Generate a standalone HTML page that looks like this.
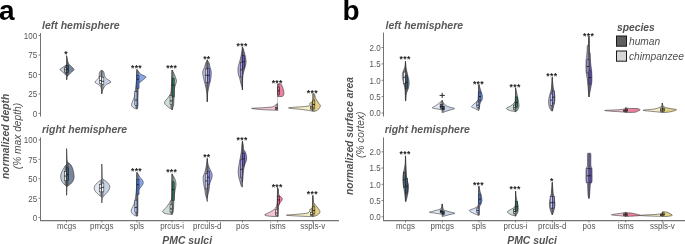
<!DOCTYPE html>
<html><head><meta charset="utf-8"><style>
html,body{margin:0;padding:0;background:#fff;width:685px;height:244px;overflow:hidden}
svg{display:block;will-change:transform}
text{font-family:"Liberation Sans", sans-serif}
.pl{font-size:28px;font-weight:bold;fill:#000}
.strip{font-size:10.5px;font-weight:bold;font-style:italic;fill:#595959}
.tk{font-size:8px;fill:#555}
.ttl{font-size:10.3px;font-weight:bold;font-style:italic;fill:#525252}
.sub{font-size:10.2px;font-style:italic;fill:#4d4d4d}
.st{font-size:8.6px;font-weight:bold;fill:#222;letter-spacing:0.35px}
</style></head><body>
<svg width="685" height="244" viewBox="0 0 685 244" xmlns="http://www.w3.org/2000/svg">
<text x="-1" y="20.3" class="pl">a</text>
<text x="342.4" y="20.2" class="pl">b</text>
<text x="42" y="29" class="strip">left hemisphere</text>
<text x="42" y="133" class="strip">right hemisphere</text>
<text x="385.5" y="29" class="strip">left hemisphere</text>
<text x="384.7" y="133" class="strip">right hemisphere</text>
<line x1="40.5" y1="33" x2="40.5" y2="116.5" stroke="#737373" stroke-width="1.05"/>
<line x1="38.5" y1="35.5" x2="40.5" y2="35.5" stroke="#666" stroke-width="0.8"/>
<text transform="translate(37.20,38.80) scale(1,1.08)" text-anchor="end" class="tk">100</text>
<line x1="38.5" y1="55.0" x2="40.5" y2="55.0" stroke="#666" stroke-width="0.8"/>
<text transform="translate(37.20,58.30) scale(1,1.08)" text-anchor="end" class="tk">75</text>
<line x1="38.5" y1="74.5" x2="40.5" y2="74.5" stroke="#666" stroke-width="0.8"/>
<text transform="translate(37.20,77.80) scale(1,1.08)" text-anchor="end" class="tk">50</text>
<line x1="38.5" y1="94.0" x2="40.5" y2="94.0" stroke="#666" stroke-width="0.8"/>
<text transform="translate(37.20,97.30) scale(1,1.08)" text-anchor="end" class="tk">25</text>
<line x1="38.5" y1="113.4" x2="40.5" y2="113.4" stroke="#666" stroke-width="0.8"/>
<text transform="translate(37.20,116.70) scale(1,1.08)" text-anchor="end" class="tk">0</text>
<line x1="40.5" y1="137.4" x2="40.5" y2="220.4" stroke="#737373" stroke-width="1.05"/>
<line x1="38.5" y1="139.9" x2="40.5" y2="139.9" stroke="#666" stroke-width="0.8"/>
<text transform="translate(37.20,143.20) scale(1,1.08)" text-anchor="end" class="tk">100</text>
<line x1="38.5" y1="159.3" x2="40.5" y2="159.3" stroke="#666" stroke-width="0.8"/>
<text transform="translate(37.20,162.60) scale(1,1.08)" text-anchor="end" class="tk">75</text>
<line x1="38.5" y1="178.8" x2="40.5" y2="178.8" stroke="#666" stroke-width="0.8"/>
<text transform="translate(37.20,182.10) scale(1,1.08)" text-anchor="end" class="tk">50</text>
<line x1="38.5" y1="198.2" x2="40.5" y2="198.2" stroke="#666" stroke-width="0.8"/>
<text transform="translate(37.20,201.50) scale(1,1.08)" text-anchor="end" class="tk">25</text>
<line x1="38.5" y1="217.6" x2="40.5" y2="217.6" stroke="#666" stroke-width="0.8"/>
<text transform="translate(37.20,220.90) scale(1,1.08)" text-anchor="end" class="tk">0</text>
<line x1="383.5" y1="32.6" x2="383.5" y2="116.5" stroke="#737373" stroke-width="1.05"/>
<line x1="381.5" y1="47.5" x2="383.5" y2="47.5" stroke="#666" stroke-width="0.8"/>
<text transform="translate(380.70,50.80) scale(1,1.08)" text-anchor="end" class="tk">2.0</text>
<line x1="381.5" y1="63.9" x2="383.5" y2="63.9" stroke="#666" stroke-width="0.8"/>
<text transform="translate(380.70,67.20) scale(1,1.08)" text-anchor="end" class="tk">1.5</text>
<line x1="381.5" y1="80.3" x2="383.5" y2="80.3" stroke="#666" stroke-width="0.8"/>
<text transform="translate(380.70,83.60) scale(1,1.08)" text-anchor="end" class="tk">1.0</text>
<line x1="381.5" y1="96.6" x2="383.5" y2="96.6" stroke="#666" stroke-width="0.8"/>
<text transform="translate(380.70,99.90) scale(1,1.08)" text-anchor="end" class="tk">0.5</text>
<line x1="381.5" y1="113.0" x2="383.5" y2="113.0" stroke="#666" stroke-width="0.8"/>
<text transform="translate(380.70,116.30) scale(1,1.08)" text-anchor="end" class="tk">0.0</text>
<line x1="383.5" y1="137.4" x2="383.5" y2="220.4" stroke="#737373" stroke-width="1.05"/>
<line x1="381.5" y1="151.8" x2="383.5" y2="151.8" stroke="#666" stroke-width="0.8"/>
<text transform="translate(380.70,155.10) scale(1,1.08)" text-anchor="end" class="tk">2.0</text>
<line x1="381.5" y1="168.0" x2="383.5" y2="168.0" stroke="#666" stroke-width="0.8"/>
<text transform="translate(380.70,171.30) scale(1,1.08)" text-anchor="end" class="tk">1.5</text>
<line x1="381.5" y1="184.3" x2="383.5" y2="184.3" stroke="#666" stroke-width="0.8"/>
<text transform="translate(380.70,187.60) scale(1,1.08)" text-anchor="end" class="tk">1.0</text>
<line x1="381.5" y1="200.5" x2="383.5" y2="200.5" stroke="#666" stroke-width="0.8"/>
<text transform="translate(380.70,203.80) scale(1,1.08)" text-anchor="end" class="tk">0.5</text>
<line x1="381.5" y1="216.8" x2="383.5" y2="216.8" stroke="#666" stroke-width="0.8"/>
<text transform="translate(380.70,220.10) scale(1,1.08)" text-anchor="end" class="tk">0.0</text>
<line x1="40.0" y1="220.6" x2="339" y2="220.6" stroke="#737373" stroke-width="1.1"/>
<line x1="66.60" y1="220.45" x2="66.60" y2="222.45" stroke="#666" stroke-width="0.8"/>
<text transform="translate(66.60,229.25) scale(1,1.08)" text-anchor="middle" class="tk">mcgs</text>
<line x1="101.77" y1="220.45" x2="101.77" y2="222.45" stroke="#666" stroke-width="0.8"/>
<text transform="translate(101.77,229.25) scale(1,1.08)" text-anchor="middle" class="tk">pmcgs</text>
<line x1="136.94" y1="220.45" x2="136.94" y2="222.45" stroke="#666" stroke-width="0.8"/>
<text transform="translate(136.94,229.25) scale(1,1.08)" text-anchor="middle" class="tk">spls</text>
<line x1="172.11" y1="220.45" x2="172.11" y2="222.45" stroke="#666" stroke-width="0.8"/>
<text transform="translate(172.11,229.25) scale(1,1.08)" text-anchor="middle" class="tk">prcus-i</text>
<line x1="207.28" y1="220.45" x2="207.28" y2="222.45" stroke="#666" stroke-width="0.8"/>
<text transform="translate(207.28,229.25) scale(1,1.08)" text-anchor="middle" class="tk">prculs-d</text>
<line x1="242.45" y1="220.45" x2="242.45" y2="222.45" stroke="#666" stroke-width="0.8"/>
<text transform="translate(242.45,229.25) scale(1,1.08)" text-anchor="middle" class="tk">pos</text>
<line x1="277.62" y1="220.45" x2="277.62" y2="222.45" stroke="#666" stroke-width="0.8"/>
<text transform="translate(277.62,229.25) scale(1,1.08)" text-anchor="middle" class="tk">isms</text>
<line x1="312.79" y1="220.45" x2="312.79" y2="222.45" stroke="#666" stroke-width="0.8"/>
<text transform="translate(312.79,229.25) scale(1,1.08)" text-anchor="middle" class="tk">sspls-v</text>
<line x1="383.0" y1="220.6" x2="685" y2="220.6" stroke="#737373" stroke-width="1.1"/>
<line x1="405.50" y1="220.45" x2="405.50" y2="222.45" stroke="#666" stroke-width="0.8"/>
<text transform="translate(405.50,229.25) scale(1,1.08)" text-anchor="middle" class="tk">mcgs</text>
<line x1="442.19" y1="220.45" x2="442.19" y2="222.45" stroke="#666" stroke-width="0.8"/>
<text transform="translate(442.19,229.25) scale(1,1.08)" text-anchor="middle" class="tk">pmcgs</text>
<line x1="478.88" y1="220.45" x2="478.88" y2="222.45" stroke="#666" stroke-width="0.8"/>
<text transform="translate(478.88,229.25) scale(1,1.08)" text-anchor="middle" class="tk">spls</text>
<line x1="515.57" y1="220.45" x2="515.57" y2="222.45" stroke="#666" stroke-width="0.8"/>
<text transform="translate(515.57,229.25) scale(1,1.08)" text-anchor="middle" class="tk">prcus-i</text>
<line x1="552.26" y1="220.45" x2="552.26" y2="222.45" stroke="#666" stroke-width="0.8"/>
<text transform="translate(552.26,229.25) scale(1,1.08)" text-anchor="middle" class="tk">prculs-d</text>
<line x1="588.95" y1="220.45" x2="588.95" y2="222.45" stroke="#666" stroke-width="0.8"/>
<text transform="translate(588.95,229.25) scale(1,1.08)" text-anchor="middle" class="tk">pos</text>
<line x1="625.64" y1="220.45" x2="625.64" y2="222.45" stroke="#666" stroke-width="0.8"/>
<text transform="translate(625.64,229.25) scale(1,1.08)" text-anchor="middle" class="tk">isms</text>
<line x1="662.33" y1="220.45" x2="662.33" y2="222.45" stroke="#666" stroke-width="0.8"/>
<text transform="translate(662.33,229.25) scale(1,1.08)" text-anchor="middle" class="tk">sspls-v</text>
<text x="187.2" y="243.6" text-anchor="middle" class="ttl" style="font-size:10.4px">PMC sulci</text>
<text x="532.1" y="243.6" text-anchor="middle" class="ttl" style="font-size:10.4px">PMC sulci</text>
<text transform="translate(9.0,136.3) rotate(-90)" text-anchor="middle" class="ttl">normalized depth</text>
<text transform="translate(21.0,136.1) rotate(-90)" text-anchor="middle" class="sub">(% max depth)</text>
<text transform="translate(352.8,136) rotate(-90)" text-anchor="middle" class="ttl">normalized surface area</text>
<text transform="translate(363.9,134.8) rotate(-90)" text-anchor="middle" class="sub">(% cortex)</text>
<text x="617" y="31" class="ttl">species</text>
<rect x="616.5" y="36" width="10" height="10.2" fill="#5f5f5f" stroke="#1a1a1a" stroke-width="1"/>
<rect x="616.5" y="51" width="10" height="10.2" fill="#d6d6d6" stroke="#1a1a1a" stroke-width="1"/>
<text x="629" y="44.5" class="sub">human</text>
<text x="629" y="59.5" class="sub">chimpanzee</text>
<path d="M66.60,64.60 C66.23,64.87 65.15,65.67 64.40,66.20 C63.65,66.73 62.83,67.25 62.10,67.80 C61.37,68.35 60.00,68.87 60.00,69.50 C60.00,70.13 61.37,70.90 62.10,71.60 C62.83,72.30 63.65,73.00 64.40,73.70 C65.15,74.40 66.23,75.45 66.60,75.80 L66.60,75.80 L66.60,64.60 Z" fill="#c6ced8" stroke="#2b2b2b" stroke-width="0.55" stroke-linejoin="round"/>
<path d="M66.60,55.60 C66.70,56.00 67.03,57.10 67.20,58.00 C67.37,58.90 67.40,60.13 67.60,61.00 C67.80,61.87 67.82,62.33 68.40,63.20 C68.98,64.07 70.17,65.15 71.10,66.20 C72.03,67.25 73.92,68.53 74.00,69.50 C74.08,70.47 72.42,71.17 71.60,72.00 C70.78,72.83 69.80,73.75 69.10,74.50 C68.40,75.25 67.73,75.92 67.40,76.50 C67.07,77.08 67.23,77.42 67.10,78.00 C66.97,78.58 66.68,79.67 66.60,80.00 L66.60,80.00 L66.60,55.60 Z" fill="#78869a" stroke="#2b2b2b" stroke-width="0.55" stroke-linejoin="round"/>
<path d="M66.30,55.60 L66.30,56.23 L66.30,56.85 L66.30,57.48 L66.30,58.10 L66.30,58.73 L66.30,59.35 L66.30,59.98 L66.30,60.61 L66.30,61.23 L66.30,61.86 L66.30,62.48 L66.30,63.11 L66.30,63.73 L66.30,64.36 L66.07,64.98 L65.21,65.61 L64.60,66.24 L64.60,66.86 L64.60,67.49 L64.60,68.11 L64.60,68.74 L64.60,69.36 L64.60,69.99 L64.60,70.62 L64.60,71.24 L64.60,71.87 L64.60,72.49 L64.60,73.12 L64.60,73.74 L65.10,74.37 L65.76,74.99 L66.30,75.62 L66.30,76.25 L66.30,76.87 L66.30,77.50 L66.30,78.12 L66.30,78.75 L66.30,79.37 L66.30,80.00 L66.90,80.00 L66.90,79.37 L66.91,78.75 L67.07,78.12 L67.20,77.50 L67.33,76.87 L67.62,76.25 L68.15,75.62 L68.60,74.99 L68.60,74.37 L68.60,73.74 L68.60,73.12 L68.60,72.49 L68.60,71.87 L68.60,71.24 L68.60,70.62 L68.60,69.99 L68.60,69.36 L68.60,68.74 L68.60,68.11 L68.60,67.49 L68.60,66.86 L68.60,66.24 L68.60,65.61 L68.60,64.98 L68.60,64.36 L68.60,63.73 L68.37,63.11 L68.14,62.48 L67.91,61.86 L67.68,61.23 L67.55,60.61 L67.46,59.98 L67.38,59.35 L67.30,58.73 L67.21,58.10 L67.07,57.48 L66.91,56.85 L66.90,56.23 L66.90,55.60 Z" fill="#3a3a3a" fill-opacity="0.6"/>
<rect x="64.50" y="67.88" width="2.10" height="4.14" fill="#e6eaef" stroke="#1a1a1a" stroke-width="0.5"/>
<line x1="64.50" y1="69.85" x2="66.60" y2="69.85" stroke="#111" stroke-width="0.8"/>
<rect x="66.60" y="65.60" width="2.10" height="6.65" fill="#3b5875" stroke="#1a1a1a" stroke-width="0.5"/>
<line x1="66.60" y1="69.11" x2="68.70" y2="69.11" stroke="#111" stroke-width="0.8"/>
<text x="66.20" y="57.30" text-anchor="middle" class="st">*</text>
<path d="M101.77,70.30 C101.47,70.50 100.37,70.98 99.97,71.50 C99.57,72.02 99.50,72.65 99.37,73.40 C99.24,74.15 99.35,75.15 99.17,76.00 C98.99,76.85 98.97,77.50 98.27,78.50 C97.57,79.50 94.97,81.00 94.97,82.00 C94.97,83.00 97.39,83.78 98.27,84.50 C99.15,85.22 99.77,85.72 100.27,86.30 C100.77,86.88 101.02,86.77 101.27,88.00 C101.52,89.23 101.69,92.75 101.77,93.70 L101.77,93.70 L101.77,70.30 Z" fill="#e3e9f4" stroke="#2b2b2b" stroke-width="0.55" stroke-linejoin="round"/>
<path d="M101.77,70.30 C102.07,70.50 103.17,70.98 103.57,71.50 C103.97,72.02 103.97,72.65 104.17,73.40 C104.37,74.15 104.42,75.15 104.77,76.00 C105.12,76.85 105.24,77.50 106.27,78.50 C107.30,79.50 110.97,81.00 110.97,82.00 C110.97,83.00 107.39,83.67 106.27,84.50 C105.15,85.33 104.77,86.28 104.27,87.00 C103.77,87.72 103.60,88.13 103.27,88.80 C102.94,89.47 102.52,90.18 102.27,91.00 C102.02,91.82 101.85,93.25 101.77,93.70 L101.77,93.70 L101.77,70.30 Z" fill="#c9d3e7" stroke="#2b2b2b" stroke-width="0.55" stroke-linejoin="round"/>
<path d="M101.47,70.30 L100.87,70.90 L99.97,71.50 L99.78,72.10 L99.77,72.70 L99.77,73.30 L99.77,73.90 L99.77,74.50 L99.77,75.10 L99.77,75.70 L99.77,76.30 L99.77,76.90 L99.77,77.50 L99.77,78.10 L99.77,78.70 L99.77,79.30 L99.77,79.90 L99.77,80.50 L99.77,81.10 L99.77,81.70 L99.77,82.30 L99.77,82.90 L99.77,83.50 L99.77,84.10 L99.77,84.70 L99.77,85.30 L99.83,85.90 L100.39,86.50 L100.74,87.10 L101.09,87.70 L101.30,88.30 L101.35,88.90 L101.40,89.50 L101.45,90.10 L101.47,90.70 L101.47,91.30 L101.47,91.90 L101.47,92.50 L101.47,93.10 L101.47,93.70 L102.07,93.70 L102.07,93.10 L102.07,92.50 L102.10,91.90 L102.21,91.30 L102.41,90.70 L102.68,90.10 L102.95,89.50 L103.22,88.90 L103.55,88.30 L103.77,87.70 L103.77,87.10 L103.77,86.50 L103.77,85.90 L103.77,85.30 L103.77,84.70 L103.77,84.10 L103.77,83.50 L103.77,82.90 L103.77,82.30 L103.77,81.70 L103.77,81.10 L103.77,80.50 L103.77,79.90 L103.77,79.30 L103.77,78.70 L103.77,78.10 L103.77,77.50 L103.77,76.90 L103.77,76.30 L103.77,75.70 L103.77,75.10 L103.77,74.50 L103.77,73.90 L103.77,73.30 L103.77,72.70 L103.76,72.10 L103.57,71.50 L102.67,70.90 L102.07,70.30 Z" fill="#3a3a3a" fill-opacity="0.4"/>
<rect x="99.67" y="76.15" width="2.10" height="7.40" fill="#f5f7fb" stroke="#1a1a1a" stroke-width="0.5"/>
<line x1="99.67" y1="80.62" x2="101.77" y2="80.62" stroke="#111" stroke-width="0.8"/>
<rect x="101.77" y="77.23" width="2.10" height="7.04" fill="#f0f2f8" stroke="#1a1a1a" stroke-width="0.5"/>
<line x1="101.77" y1="81.27" x2="103.87" y2="81.27" stroke="#111" stroke-width="0.8"/>
<path d="M136.94,69.50 C136.86,71.25 136.69,76.67 136.44,80.00 C136.19,83.33 135.77,86.75 135.44,89.50 C135.11,92.25 134.97,94.38 134.44,96.50 C133.91,98.62 132.71,100.67 132.24,102.20 C131.77,103.73 131.36,104.73 131.64,105.70 C131.92,106.67 133.06,107.43 133.94,108.00 C134.82,108.57 136.44,108.92 136.94,109.10 L136.94,109.10 L136.94,69.50 Z" fill="#d8e2f7" stroke="#2b2b2b" stroke-width="0.55" stroke-linejoin="round"/>
<path d="M136.94,69.50 C137.14,69.75 137.71,70.45 138.14,71.00 C138.57,71.55 138.91,72.17 139.54,72.80 C140.17,73.43 140.87,74.12 141.94,74.80 C143.01,75.48 145.69,76.12 145.94,76.90 C146.19,77.68 144.36,78.65 143.44,79.50 C142.52,80.35 141.32,81.28 140.44,82.00 C139.56,82.72 138.52,82.47 138.14,83.80 C137.76,85.13 138.17,87.30 138.14,90.00 C138.11,92.70 137.97,97.33 137.94,100.00 C137.91,102.67 138.11,104.50 137.94,106.00 C137.77,107.50 137.11,108.50 136.94,109.00 L136.94,109.00 L136.94,69.50 Z" fill="#89a7e8" stroke="#2b2b2b" stroke-width="0.55" stroke-linejoin="round"/>
<path d="M136.64,69.50 L136.64,70.52 L136.64,71.53 L136.64,72.55 L136.64,73.56 L136.64,74.58 L136.64,75.59 L136.60,76.61 L136.55,77.62 L136.50,78.64 L136.46,79.65 L136.37,80.67 L136.26,81.68 L136.16,82.70 L136.05,83.72 L135.94,84.73 L135.84,85.75 L135.73,86.76 L135.62,87.78 L135.51,88.79 L135.40,89.81 L135.25,90.82 L135.11,91.84 L134.96,92.85 L134.94,93.87 L134.94,94.88 L134.94,95.90 L134.94,96.92 L134.94,97.93 L134.94,98.95 L134.94,99.96 L134.94,100.98 L134.94,101.99 L134.94,103.01 L134.94,104.02 L134.94,105.04 L134.94,106.05 L134.94,107.07 L134.94,108.08 L136.64,109.10 L137.24,109.10 L137.25,108.08 L137.58,107.07 L137.92,106.05 L137.94,105.04 L137.94,104.02 L137.94,103.01 L137.94,101.99 L137.94,100.98 L137.94,99.96 L137.96,98.95 L137.98,97.93 L138.00,96.92 L138.02,95.90 L138.04,94.88 L138.06,93.87 L138.08,92.85 L138.10,91.84 L138.12,90.82 L138.14,89.81 L138.14,88.79 L138.14,87.78 L138.14,86.76 L138.14,85.75 L138.14,84.73 L138.25,83.72 L138.94,82.70 L138.94,81.68 L138.94,80.67 L138.94,79.65 L138.94,78.64 L138.94,77.62 L138.94,76.61 L138.94,75.59 L138.94,74.58 L138.94,73.56 L138.94,72.55 L138.55,71.53 L137.75,70.52 L137.24,69.50 Z" fill="#3a3a3a" fill-opacity="0.4"/>
<rect x="134.84" y="91.63" width="2.10" height="13.65" fill="#b4c8f4" stroke="#1a1a1a" stroke-width="0.5"/>
<line x1="134.84" y1="100.07" x2="136.94" y2="100.07" stroke="#111" stroke-width="0.8"/>
<rect x="136.94" y="75.74" width="2.10" height="12.99" fill="#4d7be0" stroke="#1a1a1a" stroke-width="0.5"/>
<line x1="136.94" y1="79.20" x2="139.04" y2="79.20" stroke="#111" stroke-width="0.8"/>
<text x="136.54" y="71.10" text-anchor="middle" class="st">***</text>
<path d="M172.11,70.00 C171.98,73.00 171.56,84.12 171.31,88.00 C171.06,91.88 171.14,91.70 170.61,93.30 C170.08,94.90 169.13,96.00 168.11,97.60 C167.09,99.20 164.34,101.22 164.51,102.90 C164.68,104.58 167.84,106.60 169.11,107.70 C170.38,108.80 171.61,109.20 172.11,109.50 L172.11,109.50 L172.11,70.00 Z" fill="#d2ded9" stroke="#2b2b2b" stroke-width="0.55" stroke-linejoin="round"/>
<path d="M172.11,70.00 C172.31,70.33 172.88,71.13 173.31,72.00 C173.74,72.87 174.26,74.07 174.71,75.20 C175.16,76.33 175.71,77.75 176.01,78.80 C176.31,79.85 176.66,80.30 176.51,81.50 C176.36,82.70 175.49,84.65 175.11,86.00 C174.73,87.35 174.38,88.10 174.21,89.60 C174.04,91.10 174.16,93.27 174.11,95.00 C174.06,96.73 173.99,98.33 173.91,100.00 C173.83,101.67 173.91,103.35 173.61,105.00 C173.31,106.65 172.36,109.08 172.11,109.90 L172.11,109.90 L172.11,70.00 Z" fill="#a9c1b8" stroke="#2b2b2b" stroke-width="0.55" stroke-linejoin="round"/>
<path d="M171.81,70.00 L171.81,71.02 L171.81,72.05 L171.81,73.07 L171.81,74.09 L171.81,75.12 L171.81,76.14 L171.79,77.16 L171.75,78.18 L171.70,79.21 L171.66,80.23 L171.61,81.25 L171.56,82.28 L171.52,83.30 L171.47,84.32 L171.43,85.35 L171.38,86.37 L171.34,87.39 L171.26,88.42 L171.12,89.44 L170.98,90.46 L170.85,91.48 L170.71,92.51 L170.48,93.53 L170.11,94.55 L170.11,95.58 L170.11,96.60 L170.11,97.62 L170.11,98.65 L170.11,99.67 L170.11,100.69 L170.11,101.72 L170.11,102.74 L170.11,103.76 L170.11,104.78 L170.11,105.81 L170.11,106.83 L170.11,107.85 L171.07,108.88 L171.81,109.90 L172.41,109.90 L172.42,108.88 L172.74,107.85 L173.05,106.83 L173.36,105.81 L173.62,104.78 L173.68,103.76 L173.75,102.74 L173.81,101.72 L173.87,100.69 L173.92,99.67 L173.96,98.65 L174.01,97.62 L174.05,96.60 L174.09,95.58 L174.11,94.55 L174.11,93.53 L174.11,92.51 L174.11,91.48 L174.11,90.46 L174.11,89.44 L174.11,88.42 L174.11,87.39 L174.11,86.37 L174.11,85.35 L174.11,84.32 L174.11,83.30 L174.11,82.28 L174.11,81.25 L174.11,80.23 L174.11,79.21 L174.11,78.18 L174.11,77.16 L174.11,76.14 L174.11,75.12 L174.11,74.09 L173.78,73.07 L173.33,72.05 L172.72,71.02 L172.41,70.00 Z" fill="#3a3a3a" fill-opacity="0.4"/>
<rect x="170.01" y="95.32" width="2.10" height="9.28" fill="#c8dcd4" stroke="#1a1a1a" stroke-width="0.5"/>
<line x1="170.01" y1="100.89" x2="172.11" y2="100.89" stroke="#111" stroke-width="0.8"/>
<rect x="172.11" y="78.20" width="2.10" height="18.75" fill="#2f6e60" stroke="#1a1a1a" stroke-width="0.5"/>
<line x1="172.11" y1="85.20" x2="174.21" y2="85.20" stroke="#111" stroke-width="0.8"/>
<text x="171.71" y="71.10" text-anchor="middle" class="st">***</text>
<path d="M207.28,59.90 C207.03,60.42 206.25,61.77 205.78,63.00 C205.31,64.23 205.00,65.77 204.48,67.30 C203.96,68.83 202.78,70.15 202.68,72.20 C202.58,74.25 203.45,77.47 203.88,79.60 C204.31,81.73 204.80,82.87 205.28,85.00 C205.76,87.13 206.45,89.60 206.78,92.40 C207.11,95.20 207.20,100.23 207.28,101.80 L207.28,101.80 L207.28,59.90 Z" fill="#c0c0da" stroke="#2b2b2b" stroke-width="0.55" stroke-linejoin="round"/>
<path d="M207.28,59.90 C207.58,60.42 208.61,61.77 209.08,63.00 C209.55,64.23 209.71,65.77 210.08,67.30 C210.45,68.83 211.18,70.15 211.28,72.20 C211.38,74.25 211.01,77.47 210.68,79.60 C210.35,81.73 209.76,82.87 209.28,85.00 C208.80,87.13 208.11,89.60 207.78,92.40 C207.45,95.20 207.36,100.23 207.28,101.80 L207.28,101.80 L207.28,59.90 Z" fill="#9c9cd6" stroke="#2b2b2b" stroke-width="0.55" stroke-linejoin="round"/>
<path d="M206.98,59.90 L206.76,60.97 L206.24,62.05 L205.74,63.12 L205.42,64.20 L205.28,65.27 L205.28,66.35 L205.28,67.42 L205.28,68.49 L205.28,69.57 L205.28,70.64 L205.28,71.72 L205.28,72.79 L205.28,73.87 L205.28,74.94 L205.28,76.02 L205.28,77.09 L205.28,78.16 L205.28,79.24 L205.28,80.31 L205.28,81.39 L205.28,82.46 L205.28,83.54 L205.28,84.61 L205.42,85.68 L205.64,86.76 L205.85,87.83 L206.07,88.91 L206.29,89.98 L206.51,91.06 L206.73,92.13 L206.82,93.21 L206.88,94.28 L206.94,95.35 L206.98,96.43 L206.98,97.50 L206.98,98.58 L206.98,99.65 L206.98,100.73 L206.98,101.80 L207.58,101.80 L207.58,100.73 L207.58,99.65 L207.58,98.58 L207.58,97.50 L207.58,96.43 L207.62,95.35 L207.68,94.28 L207.74,93.21 L207.83,92.13 L208.05,91.06 L208.27,89.98 L208.49,88.91 L208.71,87.83 L208.92,86.76 L209.14,85.68 L209.28,84.61 L209.28,83.54 L209.28,82.46 L209.28,81.39 L209.28,80.31 L209.28,79.24 L209.28,78.16 L209.28,77.09 L209.28,76.02 L209.28,74.94 L209.28,73.87 L209.28,72.79 L209.28,71.72 L209.28,70.64 L209.28,69.57 L209.28,68.49 L209.28,67.42 L209.28,66.35 L209.28,65.27 L209.28,64.20 L209.11,63.12 L208.53,62.05 L207.90,60.97 L207.58,59.90 Z" fill="#3a3a3a" fill-opacity="0.4"/>
<rect x="205.18" y="68.93" width="2.10" height="13.65" fill="#c4c4e6" stroke="#1a1a1a" stroke-width="0.5"/>
<line x1="205.18" y1="75.23" x2="207.28" y2="75.23" stroke="#111" stroke-width="0.8"/>
<rect x="207.28" y="68.51" width="2.10" height="14.31" fill="#8484dc" stroke="#1a1a1a" stroke-width="0.5"/>
<line x1="207.28" y1="75.34" x2="209.38" y2="75.34" stroke="#111" stroke-width="0.8"/>
<text x="206.88" y="61.50" text-anchor="middle" class="st">**</text>
<path d="M242.45,46.90 C242.33,47.72 242.02,50.15 241.75,51.80 C241.48,53.45 241.32,54.75 240.85,56.80 C240.38,58.85 239.42,62.23 238.95,64.10 C238.48,65.97 238.20,66.68 238.05,68.00 C237.90,69.32 237.97,70.83 238.05,72.00 C238.13,73.17 238.28,73.95 238.55,75.00 C238.82,76.05 239.23,76.80 239.65,78.30 C240.07,79.80 240.63,82.38 241.05,84.00 C241.47,85.62 241.92,87.02 242.15,88.00 C242.38,88.98 242.40,89.58 242.45,89.90 L242.45,89.90 L242.45,46.90 Z" fill="#b4acd2" stroke="#2b2b2b" stroke-width="0.55" stroke-linejoin="round"/>
<path d="M242.45,46.90 C242.62,47.25 243.17,48.18 243.45,49.00 C243.73,49.82 243.82,50.50 244.15,51.80 C244.48,53.10 245.13,55.27 245.45,56.80 C245.77,58.33 245.98,59.78 246.05,61.00 C246.12,62.22 246.05,62.93 245.85,64.10 C245.65,65.27 245.22,66.68 244.85,68.00 C244.48,69.32 244.00,70.33 243.65,72.00 C243.30,73.67 242.95,75.02 242.75,78.00 C242.55,80.98 242.50,87.92 242.45,89.90 L242.45,89.90 L242.45,46.90 Z" fill="#8676c4" stroke="#2b2b2b" stroke-width="0.55" stroke-linejoin="round"/>
<path d="M242.15,46.90 L242.15,48.00 L242.13,49.11 L241.98,50.21 L241.82,51.31 L241.64,52.41 L241.44,53.52 L241.24,54.62 L241.04,55.72 L240.84,56.82 L240.56,57.93 L240.45,59.03 L240.45,60.13 L240.45,61.23 L240.45,62.34 L240.45,63.44 L240.45,64.54 L240.45,65.64 L240.45,66.75 L240.45,67.85 L240.45,68.95 L240.45,70.05 L240.45,71.16 L240.45,72.26 L240.45,73.36 L240.45,74.46 L240.45,75.57 L240.45,76.67 L240.45,77.77 L240.45,78.87 L240.45,79.98 L240.45,81.08 L240.60,82.18 L240.87,83.28 L241.16,84.39 L241.46,85.49 L241.76,86.59 L242.07,87.69 L242.15,88.80 L242.15,89.90 L242.75,89.90 L242.75,88.80 L242.75,87.69 L242.75,86.59 L242.75,85.49 L242.75,84.39 L242.75,83.28 L242.75,82.18 L242.75,81.08 L242.75,79.98 L242.75,78.87 L242.78,77.77 L242.95,76.67 L243.12,75.57 L243.28,74.46 L243.45,73.36 L243.61,72.26 L243.90,71.16 L244.23,70.05 L244.45,68.95 L244.45,67.85 L244.45,66.75 L244.45,65.64 L244.45,64.54 L244.45,63.44 L244.45,62.34 L244.45,61.23 L244.45,60.13 L244.45,59.03 L244.45,57.93 L244.45,56.82 L244.45,55.72 L244.45,54.62 L244.45,53.52 L244.31,52.41 L244.03,51.31 L243.75,50.21 L243.48,49.11 L242.98,48.00 L242.75,46.90 Z" fill="#3a3a3a" fill-opacity="0.4"/>
<rect x="240.35" y="62.20" width="2.10" height="14.82" fill="#a898d8" stroke="#1a1a1a" stroke-width="0.5"/>
<line x1="240.35" y1="69.75" x2="242.45" y2="69.75" stroke="#111" stroke-width="0.8"/>
<rect x="242.45" y="55.58" width="2.10" height="12.53" fill="#6a56c0" stroke="#1a1a1a" stroke-width="0.5"/>
<line x1="242.45" y1="61.77" x2="244.55" y2="61.77" stroke="#111" stroke-width="0.8"/>
<text x="242.05" y="48.60" text-anchor="middle" class="st">***</text>
<path d="M277.62,103.60 C277.37,103.75 276.62,104.13 276.12,104.50 C275.62,104.87 275.20,105.42 274.62,105.80 C274.04,106.18 273.62,106.55 272.62,106.80 C271.62,107.05 270.45,107.13 268.62,107.30 C266.79,107.47 264.45,107.62 261.62,107.80 C258.79,107.98 251.62,108.10 251.62,108.40 C251.62,108.70 258.62,109.33 261.62,109.60 C264.62,109.87 267.45,109.90 269.62,110.00 C271.79,110.10 273.29,110.13 274.62,110.20 C275.95,110.27 277.12,110.37 277.62,110.40 L277.62,110.40 L277.62,103.60 Z" fill="#f5c4d3" stroke="#2b2b2b" stroke-width="0.55" stroke-linejoin="round"/>
<path d="M277.62,83.90 C278.14,83.90 279.97,83.55 280.72,83.90 C281.47,84.25 281.69,85.07 282.12,86.00 C282.55,86.93 283.02,88.42 283.32,89.50 C283.62,90.58 283.87,91.58 283.92,92.50 C283.97,93.42 283.92,94.35 283.62,95.00 C283.32,95.65 283.12,96.13 282.12,96.40 C281.12,96.67 278.37,96.57 277.62,96.60 L277.62,96.60 L277.62,83.90 Z" fill="#e9839f" stroke="#2b2b2b" stroke-width="0.55" stroke-linejoin="round"/>
<path d="M277.32,83.90 L277.32,84.58 L277.32,85.26 L277.32,85.94 L277.32,86.62 L277.32,87.30 L277.32,87.98 L277.32,88.66 L277.32,89.34 L277.32,90.02 L277.32,90.69 L277.32,91.37 L277.32,92.05 L277.32,92.73 L277.32,93.41 L277.32,94.09 L277.32,94.77 L277.32,95.45 L277.32,96.13 L277.32,96.81 L277.32,97.49 L277.32,98.17 L277.32,98.85 L277.32,99.53 L277.32,100.21 L277.32,100.89 L277.32,101.57 L277.32,102.25 L277.32,102.93 L277.32,103.61 L276.48,104.28 L275.62,104.96 L275.62,105.64 L275.62,106.32 L275.62,107.00 L275.62,107.68 L275.62,108.36 L275.62,109.04 L275.62,109.72 L277.32,110.40 L277.92,110.40 L277.92,109.72 L277.92,109.04 L277.92,108.36 L277.92,107.68 L277.92,107.00 L277.92,106.32 L277.92,105.64 L277.92,104.96 L277.92,104.28 L277.92,103.61 L277.92,102.93 L277.92,102.25 L277.92,101.57 L277.92,100.89 L277.92,100.21 L277.92,99.53 L277.92,98.85 L277.92,98.17 L277.92,97.49 L277.92,96.81 L279.62,96.13 L279.62,95.45 L279.62,94.77 L279.62,94.09 L279.62,93.41 L279.62,92.73 L279.62,92.05 L279.62,91.37 L279.62,90.69 L279.62,90.02 L279.62,89.34 L279.62,88.66 L279.62,87.98 L279.62,87.30 L279.62,86.62 L279.62,85.94 L279.62,85.26 L279.62,84.58 L279.62,83.90 Z" fill="#3a3a3a" fill-opacity="0.4"/>
<rect x="275.52" y="107.49" width="2.10" height="1.77" fill="#f8d4de" stroke="#1a1a1a" stroke-width="0.5"/>
<line x1="275.52" y1="108.42" x2="277.62" y2="108.42" stroke="#111" stroke-width="0.8"/>
<rect x="277.62" y="87.07" width="2.10" height="7.12" fill="#d8608a" stroke="#1a1a1a" stroke-width="0.5"/>
<line x1="277.62" y1="90.81" x2="279.72" y2="90.81" stroke="#111" stroke-width="0.8"/>
<text x="277.22" y="85.80" text-anchor="middle" class="st">***</text>
<path d="M312.79,101.50 C312.62,101.58 312.32,101.67 311.79,102.00 C311.26,102.33 309.92,102.92 309.59,103.50 C309.26,104.08 310.59,105.00 309.79,105.50 C308.99,106.00 308.34,106.10 304.79,106.50 C301.24,106.90 288.82,107.38 288.49,107.90 C288.16,108.42 298.74,109.07 302.79,109.60 C306.84,110.13 311.12,110.85 312.79,111.10 L312.79,111.10 L312.79,101.50 Z" fill="#f5edca" stroke="#2b2b2b" stroke-width="0.55" stroke-linejoin="round"/>
<path d="M312.79,93.50 C313.04,93.58 313.92,93.58 314.29,94.00 C314.66,94.42 314.74,95.23 314.99,96.00 C315.24,96.77 315.17,97.40 315.79,98.60 C316.41,99.80 317.92,101.95 318.69,103.20 C319.46,104.45 320.57,104.95 320.39,106.10 C320.21,107.25 318.52,109.25 317.59,110.10 C316.66,110.95 315.59,111.00 314.79,111.20 C313.99,111.40 313.12,111.28 312.79,111.30 L312.79,111.30 L312.79,93.50 Z" fill="#e5d28a" stroke="#2b2b2b" stroke-width="0.55" stroke-linejoin="round"/>
<path d="M312.49,93.50 L312.49,93.96 L312.49,94.41 L312.49,94.87 L312.49,95.33 L312.49,95.78 L312.49,96.24 L312.49,96.69 L312.49,97.15 L312.49,97.61 L312.49,98.06 L312.49,98.52 L312.49,98.98 L312.49,99.43 L312.49,99.89 L312.49,100.35 L312.49,100.80 L312.49,101.26 L312.36,101.72 L311.54,102.17 L310.87,102.63 L310.79,103.08 L310.79,103.54 L310.79,104.00 L310.79,104.45 L310.79,104.91 L310.79,105.37 L310.79,105.82 L310.79,106.28 L310.79,106.74 L310.79,107.19 L310.79,107.65 L310.79,108.11 L310.79,108.56 L310.79,109.02 L310.79,109.47 L310.79,109.93 L310.79,110.39 L311.08,110.84 L312.49,111.30 L313.09,111.30 L314.79,110.84 L314.79,110.39 L314.79,109.93 L314.79,109.47 L314.79,109.02 L314.79,108.56 L314.79,108.11 L314.79,107.65 L314.79,107.19 L314.79,106.74 L314.79,106.28 L314.79,105.82 L314.79,105.37 L314.79,104.91 L314.79,104.45 L314.79,104.00 L314.79,103.54 L314.79,103.08 L314.79,102.63 L314.79,102.17 L314.79,101.72 L314.79,101.26 L314.79,100.80 L314.79,100.35 L314.79,99.89 L314.79,99.43 L314.79,98.98 L314.79,98.52 L314.79,98.06 L314.79,97.61 L314.79,97.15 L314.79,96.69 L314.79,96.24 L314.79,95.78 L314.75,95.33 L314.59,94.87 L314.43,94.41 L314.16,93.96 L313.09,93.50 Z" fill="#3a3a3a" fill-opacity="0.4"/>
<rect x="310.69" y="106.58" width="2.10" height="2.41" fill="#f8f2d8" stroke="#1a1a1a" stroke-width="0.5"/>
<line x1="310.69" y1="107.88" x2="312.79" y2="107.88" stroke="#111" stroke-width="0.8"/>
<rect x="312.79" y="100.10" width="2.10" height="7.92" fill="#cdb556" stroke="#1a1a1a" stroke-width="0.5"/>
<line x1="312.79" y1="104.56" x2="314.89" y2="104.56" stroke="#111" stroke-width="0.8"/>
<text x="312.39" y="95.50" text-anchor="middle" class="st">***</text>
<path d="M66.60,164.50 C66.35,164.75 65.68,165.17 65.10,166.00 C64.52,166.83 63.73,168.33 63.10,169.50 C62.47,170.67 61.70,171.92 61.30,173.00 C60.90,174.08 60.73,174.92 60.70,176.00 C60.67,177.08 60.78,178.42 61.10,179.50 C61.42,180.58 62.02,181.62 62.60,182.50 C63.18,183.38 64.02,184.22 64.60,184.80 C65.18,185.38 65.77,185.72 66.10,186.00 C66.43,186.28 66.52,186.42 66.60,186.50 L66.60,186.50 L66.60,164.50 Z" fill="#c6ced8" stroke="#2b2b2b" stroke-width="0.55" stroke-linejoin="round"/>
<path d="M66.60,148.60 C66.65,149.67 66.82,153.10 66.90,155.00 C66.98,156.90 66.98,158.80 67.10,160.00 C67.22,161.20 67.18,161.62 67.60,162.20 C68.02,162.78 68.93,162.87 69.60,163.50 C70.27,164.13 71.02,164.92 71.60,166.00 C72.18,167.08 72.70,168.50 73.10,170.00 C73.50,171.50 73.85,173.67 74.00,175.00 C74.15,176.33 74.20,176.92 74.00,178.00 C73.80,179.08 73.37,180.50 72.80,181.50 C72.23,182.50 71.30,183.33 70.60,184.00 C69.90,184.67 69.18,185.08 68.60,185.50 C68.02,185.92 67.38,185.75 67.10,186.50 C66.82,187.25 66.98,188.53 66.90,190.00 C66.82,191.47 66.65,194.42 66.60,195.30 L66.60,195.30 L66.60,148.60 Z" fill="#78869a" stroke="#2b2b2b" stroke-width="0.55" stroke-linejoin="round"/>
<path d="M66.30,148.60 L66.30,149.80 L66.30,150.99 L66.30,152.19 L66.30,153.39 L66.30,154.59 L66.30,155.78 L66.30,156.98 L66.30,158.18 L66.30,159.38 L66.30,160.57 L66.30,161.77 L66.30,162.97 L66.30,164.17 L65.74,165.36 L64.78,166.56 L64.60,167.76 L64.60,168.96 L64.60,170.15 L64.60,171.35 L64.60,172.55 L64.60,173.75 L64.60,174.94 L64.60,176.14 L64.60,177.34 L64.60,178.54 L64.60,179.73 L64.60,180.93 L64.60,182.13 L64.60,183.33 L64.60,184.52 L65.75,185.72 L66.30,186.92 L66.30,188.12 L66.30,189.31 L66.30,190.51 L66.30,191.71 L66.30,192.91 L66.30,194.10 L66.30,195.30 L66.90,195.30 L66.90,194.10 L66.90,192.91 L66.90,191.71 L66.90,190.51 L66.94,189.31 L67.01,188.12 L67.08,186.92 L68.27,185.72 L68.60,184.52 L68.60,183.33 L68.60,182.13 L68.60,180.93 L68.60,179.73 L68.60,178.54 L68.60,177.34 L68.60,176.14 L68.60,174.94 L68.60,173.75 L68.60,172.55 L68.60,171.35 L68.60,170.15 L68.60,168.96 L68.60,167.76 L68.60,166.56 L68.60,165.36 L68.60,164.17 L68.60,162.97 L67.50,161.77 L67.23,160.57 L67.08,159.38 L67.03,158.18 L66.98,156.98 L66.93,155.78 L66.90,154.59 L66.90,153.39 L66.90,152.19 L66.90,150.99 L66.90,149.80 L66.90,148.60 Z" fill="#3a3a3a" fill-opacity="0.6"/>
<rect x="64.50" y="171.25" width="2.10" height="9.44" fill="#e6eaef" stroke="#1a1a1a" stroke-width="0.5"/>
<line x1="64.50" y1="176.08" x2="66.60" y2="176.08" stroke="#111" stroke-width="0.8"/>
<rect x="66.60" y="167.88" width="2.10" height="12.58" fill="#3b5875" stroke="#1a1a1a" stroke-width="0.5"/>
<line x1="66.60" y1="174.47" x2="68.70" y2="174.47" stroke="#111" stroke-width="0.8"/>
<path d="M101.77,179.50 C101.27,179.83 99.77,180.67 98.77,181.50 C97.77,182.33 96.54,183.50 95.77,184.50 C95.00,185.50 94.34,186.50 94.17,187.50 C94.00,188.50 94.25,189.50 94.77,190.50 C95.29,191.50 96.35,192.58 97.27,193.50 C98.19,194.42 99.52,195.42 100.27,196.00 C101.02,196.58 101.52,196.83 101.77,197.00 L101.77,197.00 L101.77,179.50 Z" fill="#e3e9f4" stroke="#2b2b2b" stroke-width="0.55" stroke-linejoin="round"/>
<path d="M101.77,164.00 C101.82,165.00 101.99,167.67 102.07,170.00 C102.15,172.33 102.07,176.45 102.27,178.00 C102.47,179.55 102.60,178.72 103.27,179.30 C103.94,179.88 105.32,180.63 106.27,181.50 C107.22,182.37 108.39,183.50 108.97,184.50 C109.55,185.50 109.89,186.42 109.77,187.50 C109.65,188.58 109.02,189.83 108.27,191.00 C107.52,192.17 106.19,193.50 105.27,194.50 C104.35,195.50 103.30,196.08 102.77,197.00 C102.24,197.92 102.24,199.00 102.07,200.00 C101.90,201.00 101.82,202.50 101.77,203.00 L101.77,203.00 L101.77,164.00 Z" fill="#c9d3e7" stroke="#2b2b2b" stroke-width="0.55" stroke-linejoin="round"/>
<path d="M101.47,164.00 L101.47,165.00 L101.47,166.00 L101.47,167.00 L101.47,168.00 L101.47,169.00 L101.47,170.00 L101.47,171.00 L101.47,172.00 L101.47,173.00 L101.47,174.00 L101.47,175.00 L101.47,176.00 L101.47,177.00 L101.47,178.00 L101.47,179.00 L101.02,180.00 L99.77,181.00 L99.77,182.00 L99.77,183.00 L99.77,184.00 L99.77,185.00 L99.77,186.00 L99.77,187.00 L99.77,188.00 L99.77,189.00 L99.77,190.00 L99.77,191.00 L99.77,192.00 L99.77,193.00 L99.77,194.00 L99.77,195.00 L100.27,196.00 L101.47,197.00 L101.47,198.00 L101.47,199.00 L101.47,200.00 L101.47,201.00 L101.47,202.00 L101.47,203.00 L102.07,203.00 L102.07,202.00 L102.07,201.00 L102.07,200.00 L102.30,199.00 L102.54,198.00 L102.77,197.00 L103.77,196.00 L103.77,195.00 L103.77,194.00 L103.77,193.00 L103.77,192.00 L103.77,191.00 L103.77,190.00 L103.77,189.00 L103.77,188.00 L103.77,187.00 L103.77,186.00 L103.77,185.00 L103.77,184.00 L103.77,183.00 L103.77,182.00 L103.77,181.00 L103.77,180.00 L103.04,179.00 L102.27,178.00 L102.24,177.00 L102.22,176.00 L102.19,175.00 L102.17,174.00 L102.14,173.00 L102.12,172.00 L102.09,171.00 L102.07,170.00 L102.07,169.00 L102.07,168.00 L102.07,167.00 L102.07,166.00 L102.07,165.00 L102.07,164.00 Z" fill="#3a3a3a" fill-opacity="0.4"/>
<rect x="99.67" y="184.51" width="2.10" height="7.40" fill="#f5f7fb" stroke="#1a1a1a" stroke-width="0.5"/>
<line x1="99.67" y1="188.18" x2="101.77" y2="188.18" stroke="#111" stroke-width="0.8"/>
<rect x="101.77" y="183.08" width="2.10" height="8.80" fill="#f0f2f8" stroke="#1a1a1a" stroke-width="0.5"/>
<line x1="101.77" y1="187.36" x2="103.87" y2="187.36" stroke="#111" stroke-width="0.8"/>
<path d="M136.94,172.40 C136.89,174.50 136.77,181.73 136.64,185.00 C136.51,188.27 136.34,189.83 136.14,192.00 C135.94,194.17 135.72,196.17 135.44,198.00 C135.16,199.83 134.86,201.60 134.44,203.00 C134.02,204.40 133.46,205.23 132.94,206.40 C132.42,207.57 131.59,208.98 131.34,210.00 C131.09,211.02 131.01,211.67 131.44,212.50 C131.87,213.33 133.02,214.38 133.94,215.00 C134.86,215.62 136.44,216.00 136.94,216.20 L136.94,216.20 L136.94,172.40 Z" fill="#d8e2f7" stroke="#2b2b2b" stroke-width="0.55" stroke-linejoin="round"/>
<path d="M136.94,172.40 C137.19,172.75 137.94,173.68 138.44,174.50 C138.94,175.32 139.36,176.47 139.94,177.30 C140.52,178.13 141.39,178.72 141.94,179.50 C142.49,180.28 143.11,181.17 143.24,182.00 C143.37,182.83 143.12,183.67 142.74,184.50 C142.36,185.33 141.57,186.17 140.94,187.00 C140.31,187.83 139.41,188.67 138.94,189.50 C138.47,190.33 138.31,190.25 138.14,192.00 C137.97,193.75 137.97,197.00 137.94,200.00 C137.91,203.00 138.01,207.33 137.94,210.00 C137.87,212.67 137.61,215.00 137.54,216.00 L136.94,216.00 L136.94,172.40 Z" fill="#89a7e8" stroke="#2b2b2b" stroke-width="0.55" stroke-linejoin="round"/>
<path d="M136.64,172.40 L136.64,173.52 L136.64,174.65 L136.64,175.77 L136.64,176.89 L136.64,178.02 L136.64,179.14 L136.64,180.26 L136.64,181.38 L136.64,182.51 L136.64,183.63 L136.64,184.75 L136.58,185.88 L136.50,187.00 L136.42,188.12 L136.34,189.25 L136.26,190.37 L136.18,191.49 L136.07,192.62 L135.94,193.74 L135.81,194.86 L135.68,195.98 L135.54,197.11 L135.39,198.23 L135.17,199.35 L134.94,200.48 L134.94,201.60 L134.94,202.72 L134.94,203.85 L134.94,204.97 L134.94,206.09 L134.94,207.22 L134.94,208.34 L134.94,209.46 L134.94,210.58 L134.94,211.71 L134.94,212.83 L134.94,213.95 L134.94,215.08 L136.64,216.20 L137.24,216.20 L137.60,215.08 L137.68,213.95 L137.75,212.83 L137.83,211.71 L137.90,210.58 L137.94,209.46 L137.94,208.34 L137.94,207.22 L137.94,206.09 L137.94,204.97 L137.94,203.85 L137.94,202.72 L137.94,201.60 L137.94,200.48 L137.96,199.35 L137.98,198.23 L138.01,197.11 L138.04,195.98 L138.07,194.86 L138.10,193.74 L138.12,192.62 L138.30,191.49 L138.66,190.37 L138.94,189.25 L138.94,188.12 L138.94,187.00 L138.94,185.88 L138.94,184.75 L138.94,183.63 L138.94,182.51 L138.94,181.38 L138.94,180.26 L138.94,179.14 L138.94,178.02 L138.94,176.89 L138.94,175.77 L138.52,174.65 L137.74,173.52 L137.24,172.40 Z" fill="#3a3a3a" fill-opacity="0.4"/>
<rect x="134.84" y="200.12" width="2.10" height="12.08" fill="#b4c8f4" stroke="#1a1a1a" stroke-width="0.5"/>
<line x1="134.84" y1="207.53" x2="136.94" y2="207.53" stroke="#111" stroke-width="0.8"/>
<rect x="136.94" y="179.72" width="2.10" height="14.48" fill="#4d7be0" stroke="#1a1a1a" stroke-width="0.5"/>
<line x1="136.94" y1="184.64" x2="139.04" y2="184.64" stroke="#111" stroke-width="0.8"/>
<text x="136.54" y="173.60" text-anchor="middle" class="st">***</text>
<path d="M172.11,173.90 C172.06,177.42 171.98,190.65 171.81,195.00 C171.64,199.35 172.04,197.93 171.11,200.00 C170.18,202.07 167.63,205.52 166.21,207.40 C164.79,209.28 162.79,210.28 162.61,211.30 C162.43,212.32 163.53,212.97 165.11,213.50 C166.69,214.03 170.94,214.33 172.11,214.50 L172.11,214.50 L172.11,173.90 Z" fill="#d2ded9" stroke="#2b2b2b" stroke-width="0.55" stroke-linejoin="round"/>
<path d="M172.11,173.90 C172.31,174.25 172.84,175.15 173.31,176.00 C173.78,176.85 174.48,177.92 174.91,179.00 C175.34,180.08 175.74,181.33 175.91,182.50 C176.08,183.67 176.04,184.75 175.91,186.00 C175.78,187.25 175.36,188.50 175.11,190.00 C174.86,191.50 174.61,193.33 174.41,195.00 C174.21,196.67 174.04,198.00 173.91,200.00 C173.78,202.00 173.74,205.00 173.61,207.00 C173.48,209.00 173.36,210.78 173.11,212.00 C172.86,213.22 172.28,213.92 172.11,214.30 L172.11,214.30 L172.11,173.90 Z" fill="#a9c1b8" stroke="#2b2b2b" stroke-width="0.55" stroke-linejoin="round"/>
<path d="M171.81,173.90 L171.81,174.94 L171.81,175.98 L171.81,177.02 L171.81,178.06 L171.81,179.11 L171.81,180.15 L171.81,181.19 L171.81,182.23 L171.81,183.27 L171.81,184.31 L171.81,185.35 L171.81,186.39 L171.81,187.43 L171.81,188.47 L171.81,189.52 L171.81,190.56 L171.81,191.60 L171.81,192.64 L171.81,193.68 L171.81,194.72 L171.70,195.76 L171.56,196.80 L171.41,197.84 L171.27,198.88 L171.12,199.93 L170.47,200.97 L170.11,202.01 L170.11,203.05 L170.11,204.09 L170.11,205.13 L170.11,206.17 L170.11,207.21 L170.11,208.25 L170.11,209.29 L170.11,210.34 L170.11,211.38 L170.11,212.42 L170.11,213.46 L171.81,214.50 L172.41,214.50 L172.48,213.46 L172.93,212.42 L173.17,211.38 L173.28,210.34 L173.38,209.29 L173.48,208.25 L173.59,207.21 L173.65,206.17 L173.69,205.13 L173.73,204.09 L173.78,203.05 L173.82,202.01 L173.87,200.97 L173.92,199.93 L174.02,198.88 L174.11,197.84 L174.11,196.80 L174.11,195.76 L174.11,194.72 L174.11,193.68 L174.11,192.64 L174.11,191.60 L174.11,190.56 L174.11,189.52 L174.11,188.47 L174.11,187.43 L174.11,186.39 L174.11,185.35 L174.11,184.31 L174.11,183.27 L174.11,182.23 L174.11,181.19 L174.11,180.15 L174.11,179.11 L174.11,178.06 L173.86,177.02 L173.30,175.98 L172.70,174.94 L172.41,173.90 Z" fill="#3a3a3a" fill-opacity="0.4"/>
<rect x="170.01" y="204.32" width="2.10" height="7.63" fill="#c8dcd4" stroke="#1a1a1a" stroke-width="0.5"/>
<line x1="170.01" y1="208.90" x2="172.11" y2="208.90" stroke="#111" stroke-width="0.8"/>
<rect x="172.11" y="181.77" width="2.10" height="18.86" fill="#2f6e60" stroke="#1a1a1a" stroke-width="0.5"/>
<line x1="172.11" y1="189.49" x2="174.21" y2="189.49" stroke="#111" stroke-width="0.8"/>
<text x="171.71" y="175.40" text-anchor="middle" class="st">***</text>
<path d="M207.28,158.50 C207.20,159.25 206.98,161.58 206.78,163.00 C206.58,164.42 206.41,165.43 206.08,167.00 C205.75,168.57 205.28,170.68 204.78,172.40 C204.28,174.12 203.28,175.45 203.08,177.30 C202.88,179.15 203.30,181.45 203.58,183.50 C203.86,185.55 204.46,187.77 204.78,189.60 C205.10,191.43 205.20,193.10 205.48,194.50 C205.76,195.90 206.18,196.83 206.48,198.00 C206.78,199.17 207.15,200.92 207.28,201.50 L207.28,201.50 L207.28,158.50 Z" fill="#c0c0da" stroke="#2b2b2b" stroke-width="0.55" stroke-linejoin="round"/>
<path d="M207.28,158.50 C207.36,159.25 207.51,161.58 207.78,163.00 C208.05,164.42 208.25,165.43 208.88,167.00 C209.51,168.57 211.03,170.90 211.58,172.40 C212.13,173.90 212.20,174.90 212.18,176.00 C212.16,177.10 211.88,177.75 211.48,179.00 C211.08,180.25 210.18,181.73 209.78,183.50 C209.38,185.27 209.38,187.77 209.08,189.60 C208.78,191.43 208.28,193.10 207.98,194.50 C207.68,195.90 207.40,197.42 207.28,198.00 L207.28,198.00 L207.28,158.50 Z" fill="#9c9cd6" stroke="#2b2b2b" stroke-width="0.55" stroke-linejoin="round"/>
<path d="M206.98,158.50 L206.98,159.60 L206.98,160.71 L206.91,161.81 L206.79,162.91 L206.60,164.01 L206.41,165.12 L206.22,166.22 L206.00,167.32 L205.74,168.42 L205.47,169.53 L205.28,170.63 L205.28,171.73 L205.28,172.83 L205.28,173.94 L205.28,175.04 L205.28,176.14 L205.28,177.24 L205.28,178.35 L205.28,179.45 L205.28,180.55 L205.28,181.65 L205.28,182.76 L205.28,183.86 L205.28,184.96 L205.28,186.06 L205.28,187.17 L205.28,188.27 L205.28,189.37 L205.28,190.47 L205.28,191.58 L205.28,192.68 L205.38,193.78 L205.59,194.88 L205.90,195.99 L206.22,197.09 L206.52,198.19 L206.78,199.29 L206.98,200.40 L206.98,201.50 L207.58,201.50 L207.58,200.40 L207.58,199.29 L207.58,198.19 L207.58,197.09 L207.68,195.99 L207.90,194.88 L208.14,193.78 L208.39,192.68 L208.64,191.58 L208.88,190.47 L209.11,189.37 L209.23,188.27 L209.28,187.17 L209.28,186.06 L209.28,184.96 L209.28,183.86 L209.28,182.76 L209.28,181.65 L209.28,180.55 L209.28,179.45 L209.28,178.35 L209.28,177.24 L209.28,176.14 L209.28,175.04 L209.28,173.94 L209.28,172.83 L209.28,171.73 L209.28,170.63 L209.28,169.53 L209.28,168.42 L209.04,167.32 L208.66,166.22 L208.36,165.12 L208.06,164.01 L207.77,162.91 L207.65,161.81 L207.58,160.71 L207.58,159.60 L207.58,158.50 Z" fill="#3a3a3a" fill-opacity="0.4"/>
<rect x="205.18" y="173.78" width="2.10" height="15.09" fill="#c4c4e6" stroke="#1a1a1a" stroke-width="0.5"/>
<line x1="205.18" y1="180.92" x2="207.28" y2="180.92" stroke="#111" stroke-width="0.8"/>
<rect x="207.28" y="171.39" width="2.10" height="13.12" fill="#8484dc" stroke="#1a1a1a" stroke-width="0.5"/>
<line x1="207.28" y1="177.21" x2="209.38" y2="177.21" stroke="#111" stroke-width="0.8"/>
<text x="206.88" y="160.20" text-anchor="middle" class="st">**</text>
<path d="M242.45,141.20 C242.35,141.83 242.00,143.62 241.85,145.00 C241.70,146.38 241.70,148.00 241.55,149.50 C241.40,151.00 241.23,152.25 240.95,154.00 C240.67,155.75 240.22,158.00 239.85,160.00 C239.48,162.00 239.03,164.00 238.75,166.00 C238.47,168.00 238.12,170.00 238.15,172.00 C238.18,174.00 238.62,176.33 238.95,178.00 C239.28,179.67 239.73,180.60 240.15,182.00 C240.57,183.40 241.07,185.57 241.45,186.40 C241.83,187.23 242.28,186.90 242.45,187.00 L242.45,187.00 L242.45,141.20 Z" fill="#b4acd2" stroke="#2b2b2b" stroke-width="0.55" stroke-linejoin="round"/>
<path d="M242.45,141.20 C242.58,141.83 243.05,143.62 243.25,145.00 C243.45,146.38 243.30,148.33 243.65,149.50 C244.00,150.67 244.88,150.92 245.35,152.00 C245.82,153.08 246.25,154.67 246.45,156.00 C246.65,157.33 246.80,158.67 246.55,160.00 C246.30,161.33 245.38,162.67 244.95,164.00 C244.52,165.33 244.22,166.67 243.95,168.00 C243.68,169.33 243.52,170.33 243.35,172.00 C243.18,173.67 243.10,176.33 242.95,178.00 C242.80,179.67 242.53,181.33 242.45,182.00 L242.45,182.00 L242.45,141.20 Z" fill="#8676c4" stroke="#2b2b2b" stroke-width="0.55" stroke-linejoin="round"/>
<path d="M242.15,141.20 L242.15,142.37 L242.08,143.55 L241.89,144.72 L241.79,145.90 L241.71,147.07 L241.63,148.25 L241.56,149.42 L241.40,150.59 L241.25,151.77 L241.09,152.94 L240.93,154.12 L240.71,155.29 L240.50,156.47 L240.45,157.64 L240.45,158.82 L240.45,159.99 L240.45,161.16 L240.45,162.34 L240.45,163.51 L240.45,164.69 L240.45,165.86 L240.45,167.04 L240.45,168.21 L240.45,169.38 L240.45,170.56 L240.45,171.73 L240.45,172.91 L240.45,174.08 L240.45,175.26 L240.45,176.43 L240.45,177.61 L240.45,178.78 L240.45,179.95 L240.45,181.13 L240.45,182.30 L240.59,183.48 L240.93,184.65 L241.28,185.83 L242.15,187.00 L242.75,187.00 L242.75,185.83 L242.75,184.65 L242.75,183.48 L242.75,182.30 L242.75,181.13 L242.75,179.95 L242.85,178.78 L242.98,177.61 L243.05,176.43 L243.13,175.26 L243.21,174.08 L243.29,172.91 L243.39,171.73 L243.57,170.56 L243.74,169.38 L243.92,168.21 L244.19,167.04 L244.45,165.86 L244.45,164.69 L244.45,163.51 L244.45,162.34 L244.45,161.16 L244.45,159.99 L244.45,158.82 L244.45,157.64 L244.45,156.47 L244.45,155.29 L244.45,154.12 L244.45,152.94 L244.45,151.77 L244.39,150.59 L243.64,149.42 L243.54,148.25 L243.43,147.07 L243.33,145.90 L243.19,144.72 L242.94,143.55 L242.75,142.37 L242.75,141.20 Z" fill="#3a3a3a" fill-opacity="0.4"/>
<rect x="240.35" y="159.85" width="2.10" height="17.65" fill="#a898d8" stroke="#1a1a1a" stroke-width="0.5"/>
<line x1="240.35" y1="169.32" x2="242.45" y2="169.32" stroke="#111" stroke-width="0.8"/>
<rect x="242.45" y="153.04" width="2.10" height="12.27" fill="#6a56c0" stroke="#1a1a1a" stroke-width="0.5"/>
<line x1="242.45" y1="158.79" x2="244.55" y2="158.79" stroke="#111" stroke-width="0.8"/>
<text x="242.05" y="142.70" text-anchor="middle" class="st">***</text>
<path d="M277.62,187.70 C277.55,189.75 277.35,197.12 277.22,200.00 C277.09,202.88 277.09,203.67 276.82,205.00 C276.55,206.33 276.32,207.08 275.62,208.00 C274.92,208.92 273.79,209.70 272.62,210.50 C271.45,211.30 269.95,212.05 268.62,212.80 C267.29,213.55 264.45,214.43 264.62,215.00 C264.79,215.57 267.45,215.95 269.62,216.20 C271.79,216.45 276.29,216.45 277.62,216.50 L277.62,216.50 L277.62,187.70 Z" fill="#f5c4d3" stroke="#2b2b2b" stroke-width="0.55" stroke-linejoin="round"/>
<path d="M277.62,187.70 C277.77,188.08 278.35,188.90 278.52,190.00 C278.69,191.10 278.35,193.30 278.62,194.30 C278.89,195.30 279.50,195.27 280.12,196.00 C280.74,196.73 282.15,197.78 282.32,198.70 C282.49,199.62 281.70,200.52 281.12,201.50 C280.54,202.48 279.27,203.18 278.82,204.60 C278.37,206.02 278.54,208.02 278.42,210.00 C278.30,211.98 278.17,215.42 278.12,216.50 L277.62,216.50 L277.62,187.70 Z" fill="#e9839f" stroke="#2b2b2b" stroke-width="0.55" stroke-linejoin="round"/>
<path d="M277.32,187.70 L277.32,188.44 L277.32,189.18 L277.32,189.92 L277.32,190.65 L277.32,191.39 L277.32,192.13 L277.32,192.87 L277.32,193.61 L277.32,194.35 L277.32,195.08 L277.32,195.82 L277.32,196.56 L277.31,197.30 L277.28,198.04 L277.26,198.78 L277.24,199.52 L277.20,200.25 L277.14,200.99 L277.08,201.73 L277.02,202.47 L276.96,203.21 L276.90,203.95 L276.85,204.68 L276.65,205.42 L276.36,206.16 L276.06,206.90 L275.76,207.64 L275.62,208.38 L275.62,209.12 L275.62,209.85 L275.62,210.59 L275.62,211.33 L275.62,212.07 L275.62,212.81 L275.62,213.55 L275.62,214.28 L275.62,215.02 L275.62,215.76 L277.32,216.50 L278.12,216.50 L278.15,215.76 L278.19,215.02 L278.22,214.28 L278.26,213.55 L278.29,212.81 L278.32,212.07 L278.36,211.33 L278.39,210.59 L278.43,209.85 L278.49,209.12 L278.54,208.38 L278.59,207.64 L278.65,206.90 L278.70,206.16 L278.76,205.42 L278.81,204.68 L279.31,203.95 L279.62,203.21 L279.62,202.47 L279.62,201.73 L279.62,200.99 L279.62,200.25 L279.62,199.52 L279.62,198.78 L279.62,198.04 L279.62,197.30 L279.62,196.56 L279.62,195.82 L279.31,195.08 L278.66,194.35 L278.60,193.61 L278.59,192.87 L278.57,192.13 L278.55,191.39 L278.54,190.65 L278.49,189.92 L278.20,189.18 L277.92,188.44 L277.92,187.70 Z" fill="#3a3a3a" fill-opacity="0.4"/>
<rect x="275.52" y="209.81" width="2.10" height="5.23" fill="#f8d4de" stroke="#1a1a1a" stroke-width="0.5"/>
<line x1="275.52" y1="212.96" x2="277.62" y2="212.96" stroke="#111" stroke-width="0.8"/>
<rect x="277.62" y="196.47" width="2.10" height="7.85" fill="#d8608a" stroke="#1a1a1a" stroke-width="0.5"/>
<line x1="277.62" y1="199.90" x2="279.72" y2="199.90" stroke="#111" stroke-width="0.8"/>
<text x="277.22" y="190.30" text-anchor="middle" class="st">***</text>
<path d="M312.79,195.50 C312.74,197.08 312.66,202.83 312.49,205.00 C312.32,207.17 312.24,207.75 311.79,208.50 C311.34,209.25 310.16,209.00 309.79,209.50 C309.42,210.00 310.09,210.88 309.59,211.50 C309.09,212.12 308.76,212.75 306.79,213.20 C304.82,213.65 301.19,213.87 297.79,214.20 C294.39,214.53 285.89,214.87 286.39,215.20 C286.89,215.53 296.39,215.97 300.79,216.20 C305.19,216.43 310.79,216.53 312.79,216.60 L312.79,216.60 L312.79,195.50 Z" fill="#f5edca" stroke="#2b2b2b" stroke-width="0.55" stroke-linejoin="round"/>
<path d="M312.79,195.50 C312.87,196.25 313.16,198.85 313.29,200.00 C313.42,201.15 313.24,201.57 313.59,202.40 C313.94,203.23 314.54,203.90 315.39,205.00 C316.24,206.10 317.92,207.90 318.69,209.00 C319.46,210.10 319.97,210.77 319.99,211.60 C320.01,212.43 319.49,213.30 318.79,214.00 C318.09,214.70 316.79,215.37 315.79,215.80 C314.79,216.23 313.29,216.47 312.79,216.60 L312.79,216.60 L312.79,195.50 Z" fill="#e5d28a" stroke="#2b2b2b" stroke-width="0.55" stroke-linejoin="round"/>
<path d="M312.49,195.50 L312.49,196.04 L312.49,196.58 L312.49,197.12 L312.49,197.66 L312.49,198.21 L312.49,198.75 L312.49,199.29 L312.49,199.83 L312.49,200.37 L312.49,200.91 L312.49,201.45 L312.49,201.99 L312.49,202.53 L312.49,203.07 L312.49,203.62 L312.49,204.16 L312.49,204.70 L312.44,205.24 L312.33,205.78 L312.23,206.32 L312.12,206.86 L312.01,207.40 L311.90,207.94 L311.79,208.48 L310.79,209.03 L310.79,209.57 L310.79,210.11 L310.79,210.65 L310.79,211.19 L310.79,211.73 L310.79,212.27 L310.79,212.81 L310.79,213.35 L310.79,213.89 L310.79,214.44 L310.79,214.98 L310.79,215.52 L310.79,216.06 L312.49,216.60 L313.09,216.60 L314.79,216.06 L314.79,215.52 L314.79,214.98 L314.79,214.44 L314.79,213.89 L314.79,213.35 L314.79,212.81 L314.79,212.27 L314.79,211.73 L314.79,211.19 L314.79,210.65 L314.79,210.11 L314.79,209.57 L314.79,209.03 L314.79,208.48 L314.79,207.94 L314.79,207.40 L314.79,206.86 L314.79,206.32 L314.79,205.78 L314.79,205.24 L314.79,204.70 L314.79,204.16 L314.43,203.62 L314.06,203.07 L313.68,202.53 L313.54,201.99 L313.47,201.45 L313.40,200.91 L313.34,200.37 L313.27,199.83 L313.21,199.29 L313.15,198.75 L313.09,198.21 L313.09,197.66 L313.09,197.12 L313.09,196.58 L313.09,196.04 L313.09,195.50 Z" fill="#3a3a3a" fill-opacity="0.4"/>
<rect x="310.69" y="212.49" width="2.10" height="3.04" fill="#f8f2d8" stroke="#1a1a1a" stroke-width="0.5"/>
<line x1="310.69" y1="214.54" x2="312.79" y2="214.54" stroke="#111" stroke-width="0.8"/>
<rect x="312.79" y="206.83" width="2.10" height="6.61" fill="#cdb556" stroke="#1a1a1a" stroke-width="0.5"/>
<line x1="312.79" y1="210.47" x2="314.89" y2="210.47" stroke="#111" stroke-width="0.8"/>
<text x="312.39" y="196.70" text-anchor="middle" class="st">***</text>
<path d="M405.50,61.20 C405.42,62.00 405.22,64.70 405.00,66.00 C404.78,67.30 404.55,68.00 404.20,69.00 C403.85,70.00 403.22,71.00 402.90,72.00 C402.58,73.00 402.37,73.92 402.30,75.00 C402.23,76.08 402.33,77.33 402.50,78.50 C402.67,79.67 403.00,80.75 403.30,82.00 C403.60,83.25 404.02,84.67 404.30,86.00 C404.58,87.33 404.80,87.53 405.00,90.00 C405.20,92.47 405.42,99.00 405.50,100.80 L405.50,100.80 L405.50,61.20 Z" fill="#c6ced8" stroke="#2b2b2b" stroke-width="0.55" stroke-linejoin="round"/>
<path d="M405.50,61.20 C405.58,62.00 405.87,64.70 406.00,66.00 C406.13,67.30 406.13,68.00 406.30,69.00 C406.47,70.00 406.73,70.83 407.00,72.00 C407.27,73.17 407.58,74.67 407.90,76.00 C408.22,77.33 408.70,78.67 408.90,80.00 C409.10,81.33 409.17,82.67 409.10,84.00 C409.03,85.33 408.80,86.83 408.50,88.00 C408.20,89.17 407.67,90.00 407.30,91.00 C406.93,92.00 406.53,92.37 406.30,94.00 C406.07,95.63 405.97,99.67 405.90,100.80 L405.50,100.80 L405.50,61.20 Z" fill="#78869a" stroke="#2b2b2b" stroke-width="0.55" stroke-linejoin="round"/>
<path d="M405.20,61.20 L405.20,62.22 L405.20,63.23 L405.18,64.25 L405.08,65.26 L404.93,66.28 L404.66,67.29 L404.38,68.31 L404.06,69.32 L403.62,70.34 L403.50,71.35 L403.50,72.37 L403.50,73.38 L403.50,74.40 L403.50,75.42 L403.50,76.43 L403.50,77.45 L403.50,78.46 L403.50,79.48 L403.50,80.49 L403.50,81.51 L403.50,82.52 L403.68,83.54 L403.94,84.55 L404.19,85.57 L404.40,86.58 L404.58,87.60 L404.76,88.62 L404.94,89.63 L405.03,90.65 L405.08,91.66 L405.12,92.68 L405.17,93.69 L405.20,94.71 L405.20,95.72 L405.20,96.74 L405.20,97.75 L405.20,98.77 L405.20,99.78 L405.20,100.80 L405.90,100.80 L405.96,99.78 L406.02,98.77 L406.08,97.75 L406.14,96.74 L406.20,95.72 L406.26,94.71 L406.40,93.69 L406.74,92.68 L407.08,91.66 L407.44,90.65 L407.50,89.63 L407.50,88.62 L407.50,87.60 L407.50,86.58 L407.50,85.57 L407.50,84.55 L407.50,83.54 L407.50,82.52 L407.50,81.51 L407.50,80.49 L407.50,79.48 L407.50,78.46 L407.50,77.45 L407.50,76.43 L407.50,75.42 L407.50,74.40 L407.31,73.38 L407.08,72.37 L406.85,71.35 L406.61,70.34 L406.38,69.32 L406.23,68.31 L406.13,67.29 L406.03,66.28 L405.92,65.26 L405.82,64.25 L405.80,63.23 L405.80,62.22 L405.80,61.20 Z" fill="#3a3a3a" fill-opacity="0.55"/>
<rect x="403.40" y="72.07" width="2.10" height="11.17" fill="#e6eaef" stroke="#1a1a1a" stroke-width="0.5"/>
<line x1="403.40" y1="77.28" x2="405.50" y2="77.28" stroke="#111" stroke-width="0.8"/>
<rect x="405.50" y="75.76" width="2.10" height="12.90" fill="#3b5875" stroke="#1a1a1a" stroke-width="0.5"/>
<line x1="405.50" y1="82.34" x2="407.60" y2="82.34" stroke="#111" stroke-width="0.8"/>
<text x="405.10" y="61.50" text-anchor="middle" class="st">***</text>
<path d="M442.19,100.40 C442.02,100.58 441.77,100.98 441.19,101.50 C440.61,102.02 439.61,102.78 438.69,103.50 C437.77,104.22 436.77,105.08 435.69,105.80 C434.61,106.52 432.11,107.30 432.19,107.80 C432.27,108.30 434.86,108.52 436.19,108.80 C437.52,109.08 439.19,109.30 440.19,109.50 C441.19,109.70 441.86,109.92 442.19,110.00 L442.19,110.00 L442.19,100.40 Z" fill="#e3e9f4" stroke="#2b2b2b" stroke-width="0.55" stroke-linejoin="round"/>
<path d="M442.19,100.40 C442.36,100.75 442.77,101.82 443.19,102.50 C443.61,103.18 444.02,103.88 444.69,104.50 C445.36,105.12 446.19,105.72 447.19,106.20 C448.19,106.68 449.47,107.02 450.69,107.40 C451.91,107.78 454.57,108.07 454.49,108.50 C454.41,108.93 451.57,109.53 450.19,110.00 C448.81,110.47 447.36,110.90 446.19,111.30 C445.02,111.70 443.86,112.18 443.19,112.40 C442.52,112.62 442.36,112.57 442.19,112.60 L442.19,112.60 L442.19,100.40 Z" fill="#c9d3e7" stroke="#2b2b2b" stroke-width="0.55" stroke-linejoin="round"/>
<path d="M441.89,100.40 L441.89,100.71 L441.62,101.03 L441.34,101.34 L441.00,101.65 L440.61,101.96 L440.22,102.28 L440.19,102.59 L440.19,102.90 L440.19,103.22 L440.19,103.53 L440.19,103.84 L440.19,104.15 L440.19,104.47 L440.19,104.78 L440.19,105.09 L440.19,105.41 L440.19,105.72 L440.19,106.03 L440.19,106.34 L440.19,106.66 L440.19,106.97 L440.19,107.28 L440.19,107.59 L440.19,107.91 L440.19,108.22 L440.19,108.53 L440.19,108.85 L440.19,109.16 L440.19,109.47 L441.33,109.78 L441.89,110.10 L441.89,110.41 L441.89,110.72 L441.89,111.04 L441.89,111.35 L441.89,111.66 L441.89,111.97 L441.89,112.29 L441.89,112.60 L442.49,112.60 L443.50,112.29 L444.19,111.97 L444.19,111.66 L444.19,111.35 L444.19,111.04 L444.19,110.72 L444.19,110.41 L444.19,110.10 L444.19,109.78 L444.19,109.47 L444.19,109.16 L444.19,108.85 L444.19,108.53 L444.19,108.22 L444.19,107.91 L444.19,107.59 L444.19,107.28 L444.19,106.97 L444.19,106.66 L444.19,106.34 L444.19,106.03 L444.19,105.72 L444.19,105.41 L444.19,105.09 L444.19,104.78 L444.19,104.47 L444.19,104.15 L444.19,103.84 L443.96,103.53 L443.73,103.22 L443.49,102.90 L443.26,102.59 L443.08,102.28 L442.93,101.96 L442.79,101.65 L442.64,101.34 L442.49,101.03 L442.49,100.71 L442.49,100.40 Z" fill="#3a3a3a" fill-opacity="0.4"/>
<rect x="440.09" y="104.45" width="2.10" height="3.67" fill="#5a6478" stroke="#1a1a1a" stroke-width="0.5"/>
<line x1="440.09" y1="106.58" x2="442.19" y2="106.58" stroke="#111" stroke-width="0.8"/>
<rect x="442.19" y="106.37" width="2.10" height="3.55" fill="#3a4458" stroke="#1a1a1a" stroke-width="0.5"/>
<line x1="442.19" y1="108.32" x2="444.29" y2="108.32" stroke="#111" stroke-width="0.8"/>
<path d="M439.59,95.40 H444.79 M442.19,92.80 V98.00" stroke="#222" stroke-width="0.95" fill="none"/>
<path d="M478.88,84.50 C478.83,85.42 478.68,88.08 478.58,90.00 C478.48,91.92 478.40,94.33 478.28,96.00 C478.16,97.67 478.20,99.00 477.88,100.00 C477.56,101.00 477.05,101.30 476.38,102.00 C475.71,102.70 474.70,103.40 473.88,104.20 C473.06,105.00 471.40,106.12 471.48,106.80 C471.56,107.48 473.40,107.80 474.38,108.30 C475.36,108.80 476.63,109.42 477.38,109.80 C478.13,110.18 478.63,110.47 478.88,110.60 L478.88,110.60 L478.88,84.50 Z" fill="#d8e2f7" stroke="#2b2b2b" stroke-width="0.55" stroke-linejoin="round"/>
<path d="M478.88,84.50 C479.01,84.92 479.41,86.15 479.68,87.00 C479.95,87.85 480.15,88.60 480.48,89.60 C480.81,90.60 481.35,91.93 481.68,93.00 C482.01,94.07 482.38,95.00 482.48,96.00 C482.58,97.00 482.51,98.08 482.28,99.00 C482.05,99.92 481.48,100.67 481.08,101.50 C480.68,102.33 480.16,102.80 479.88,104.00 C479.60,105.20 479.46,107.92 479.38,108.70 L478.88,108.70 L478.88,84.50 Z" fill="#89a7e8" stroke="#2b2b2b" stroke-width="0.55" stroke-linejoin="round"/>
<path d="M478.58,84.50 L478.58,85.17 L478.58,85.84 L478.58,86.51 L478.58,87.18 L478.58,87.85 L478.58,88.52 L478.58,89.18 L478.58,89.85 L478.55,90.52 L478.52,91.19 L478.49,91.86 L478.45,92.53 L478.42,93.20 L478.39,93.87 L478.35,94.54 L478.32,95.21 L478.29,95.88 L478.23,96.55 L478.16,97.22 L478.09,97.88 L478.02,98.55 L477.96,99.22 L477.89,99.89 L477.46,100.56 L476.96,101.23 L476.88,101.90 L476.88,102.57 L476.88,103.24 L476.88,103.91 L476.88,104.58 L476.88,105.25 L476.88,105.92 L476.88,106.58 L476.88,107.25 L476.88,107.92 L476.88,108.59 L476.88,109.26 L477.63,109.93 L478.58,110.60 L479.18,110.60 L479.18,109.93 L479.18,109.26 L479.39,108.59 L479.46,107.92 L479.53,107.25 L479.61,106.58 L479.68,105.92 L479.75,105.25 L479.82,104.58 L479.92,103.91 L480.25,103.24 L480.57,102.57 L480.88,101.90 L480.88,101.23 L480.88,100.56 L480.88,99.89 L480.88,99.22 L480.88,98.55 L480.88,97.88 L480.88,97.22 L480.88,96.55 L480.88,95.88 L480.88,95.21 L480.88,94.54 L480.88,93.87 L480.88,93.20 L480.88,92.53 L480.88,91.86 L480.88,91.19 L480.81,90.52 L480.57,89.85 L480.35,89.18 L480.15,88.52 L479.94,87.85 L479.73,87.18 L479.52,86.51 L479.31,85.84 L479.18,85.17 L479.18,84.50 Z" fill="#3a3a3a" fill-opacity="0.4"/>
<rect x="476.78" y="102.05" width="2.10" height="5.48" fill="#b4c8f4" stroke="#1a1a1a" stroke-width="0.5"/>
<line x1="476.78" y1="105.24" x2="478.88" y2="105.24" stroke="#111" stroke-width="0.8"/>
<rect x="478.88" y="92.11" width="2.10" height="8.72" fill="#4d7be0" stroke="#1a1a1a" stroke-width="0.5"/>
<line x1="478.88" y1="96.51" x2="480.98" y2="96.51" stroke="#111" stroke-width="0.8"/>
<text x="478.48" y="86.80" text-anchor="middle" class="st">***</text>
<path d="M515.57,87.80 C515.52,89.83 515.52,97.47 515.27,100.00 C515.02,102.53 514.85,102.00 514.07,103.00 C513.29,104.00 511.85,105.07 510.57,106.00 C509.29,106.93 506.37,107.80 506.37,108.60 C506.37,109.40 509.04,110.32 510.57,110.80 C512.10,111.28 514.74,111.38 515.57,111.50 L515.57,111.50 L515.57,87.80 Z" fill="#d2ded9" stroke="#2b2b2b" stroke-width="0.55" stroke-linejoin="round"/>
<path d="M515.57,87.80 C515.74,88.50 516.14,90.03 516.57,92.00 C517.00,93.97 517.75,97.25 518.17,99.60 C518.59,101.95 519.17,104.37 519.07,106.10 C518.97,107.83 518.15,109.03 517.57,110.00 C516.99,110.97 515.90,111.58 515.57,111.90 L515.57,111.90 L515.57,87.80 Z" fill="#a9c1b8" stroke="#2b2b2b" stroke-width="0.55" stroke-linejoin="round"/>
<path d="M515.27,87.80 L515.27,88.42 L515.27,89.04 L515.27,89.65 L515.27,90.27 L515.27,90.89 L515.27,91.51 L515.27,92.13 L515.27,92.74 L515.27,93.36 L515.27,93.98 L515.27,94.60 L515.27,95.22 L515.27,95.83 L515.27,96.45 L515.27,97.07 L515.27,97.69 L515.27,98.31 L515.27,98.92 L515.27,99.54 L515.21,100.16 L514.96,100.78 L514.71,101.39 L514.46,102.01 L514.22,102.63 L513.78,103.25 L513.57,103.87 L513.57,104.48 L513.57,105.10 L513.57,105.72 L513.57,106.34 L513.57,106.96 L513.57,107.57 L513.57,108.19 L513.57,108.81 L513.57,109.43 L513.57,110.05 L513.57,110.66 L514.01,111.28 L515.27,111.90 L515.87,111.90 L516.22,111.28 L516.87,110.66 L517.52,110.05 L517.57,109.43 L517.57,108.81 L517.57,108.19 L517.57,107.57 L517.57,106.96 L517.57,106.34 L517.57,105.72 L517.57,105.10 L517.57,104.48 L517.57,103.87 L517.57,103.25 L517.57,102.63 L517.57,102.01 L517.57,101.39 L517.57,100.78 L517.57,100.16 L517.57,99.54 L517.57,98.92 L517.57,98.31 L517.57,97.69 L517.57,97.07 L517.51,96.45 L517.38,95.83 L517.25,95.22 L517.12,94.60 L516.99,93.98 L516.86,93.36 L516.73,92.74 L516.60,92.13 L516.45,91.51 L516.31,90.89 L516.16,90.27 L516.01,89.65 L515.87,89.04 L515.87,88.42 L515.87,87.80 Z" fill="#3a3a3a" fill-opacity="0.4"/>
<rect x="513.47" y="105.10" width="2.10" height="4.45" fill="#c8dcd4" stroke="#1a1a1a" stroke-width="0.5"/>
<line x1="513.47" y1="107.70" x2="515.57" y2="107.70" stroke="#111" stroke-width="0.8"/>
<rect x="515.57" y="96.94" width="2.10" height="10.27" fill="#2f6e60" stroke="#1a1a1a" stroke-width="0.5"/>
<line x1="515.57" y1="102.60" x2="517.67" y2="102.60" stroke="#111" stroke-width="0.8"/>
<text x="515.17" y="90.00" text-anchor="middle" class="st">***</text>
<path d="M552.26,77.30 C552.19,78.25 551.99,81.22 551.86,83.00 C551.73,84.78 551.66,86.50 551.46,88.00 C551.26,89.50 550.99,90.67 550.66,92.00 C550.33,93.33 549.79,94.67 549.46,96.00 C549.13,97.33 548.79,98.67 548.66,100.00 C548.53,101.33 548.49,102.67 548.66,104.00 C548.83,105.33 549.23,106.92 549.66,108.00 C550.09,109.08 550.83,109.98 551.26,110.50 C551.69,111.02 552.09,111.00 552.26,111.10 L552.26,111.10 L552.26,77.30 Z" fill="#c0c0da" stroke="#2b2b2b" stroke-width="0.55" stroke-linejoin="round"/>
<path d="M552.26,77.30 C552.34,78.25 552.58,81.22 552.76,83.00 C552.94,84.78 553.11,86.50 553.36,88.00 C553.61,89.50 554.01,90.67 554.26,92.00 C554.51,93.33 554.76,94.67 554.86,96.00 C554.96,97.33 554.96,98.67 554.86,100.00 C554.76,101.33 554.49,102.83 554.26,104.00 C554.03,105.17 553.71,106.00 553.46,107.00 C553.21,108.00 552.96,109.32 552.76,110.00 C552.56,110.68 552.34,110.92 552.26,111.10 L552.26,111.10 L552.26,77.30 Z" fill="#9c9cd6" stroke="#2b2b2b" stroke-width="0.55" stroke-linejoin="round"/>
<path d="M551.96,77.30 L551.96,78.17 L551.96,79.03 L551.96,79.90 L551.96,80.77 L551.96,81.63 L551.90,82.50 L551.83,83.37 L551.76,84.23 L551.69,85.10 L551.62,85.97 L551.55,86.83 L551.48,87.70 L551.35,88.57 L551.17,89.43 L551.00,90.30 L550.83,91.17 L550.65,92.03 L550.39,92.90 L550.26,93.77 L550.26,94.63 L550.26,95.50 L550.26,96.37 L550.26,97.23 L550.26,98.10 L550.26,98.97 L550.26,99.83 L550.26,100.70 L550.26,101.57 L550.26,102.43 L550.26,103.30 L550.26,104.17 L550.26,105.03 L550.26,105.90 L550.26,106.77 L550.26,107.63 L550.26,108.50 L550.53,109.37 L551.09,110.23 L551.96,111.10 L552.56,111.10 L552.65,110.23 L552.91,109.37 L553.11,108.50 L553.31,107.63 L553.52,106.77 L553.75,105.90 L553.98,105.03 L554.22,104.17 L554.26,103.30 L554.26,102.43 L554.26,101.57 L554.26,100.70 L554.26,99.83 L554.26,98.97 L554.26,98.10 L554.26,97.23 L554.26,96.37 L554.26,95.50 L554.26,94.63 L554.26,93.77 L554.26,92.90 L554.26,92.03 L554.07,91.17 L553.88,90.30 L553.68,89.43 L553.49,88.57 L553.32,87.70 L553.22,86.83 L553.12,85.97 L553.01,85.10 L552.91,84.23 L552.80,83.37 L552.72,82.50 L552.64,81.63 L552.56,80.77 L552.56,79.90 L552.56,79.03 L552.56,78.17 L552.56,77.30 Z" fill="#3a3a3a" fill-opacity="0.4"/>
<rect x="550.16" y="93.92" width="2.10" height="11.65" fill="#c4c4e6" stroke="#1a1a1a" stroke-width="0.5"/>
<line x1="550.16" y1="100.17" x2="552.26" y2="100.17" stroke="#111" stroke-width="0.8"/>
<rect x="552.26" y="90.96" width="2.10" height="12.18" fill="#8484dc" stroke="#1a1a1a" stroke-width="0.5"/>
<line x1="552.26" y1="97.21" x2="554.36" y2="97.21" stroke="#111" stroke-width="0.8"/>
<text x="551.86" y="79.10" text-anchor="middle" class="st">***</text>
<path d="M588.95,36.30 C588.90,37.25 588.72,40.55 588.65,42.00 C588.58,43.45 588.77,44.42 588.55,45.00 C588.33,45.58 587.58,44.67 587.35,45.50 C587.12,46.33 587.25,48.42 587.15,50.00 C587.05,51.58 586.92,53.33 586.75,55.00 C586.58,56.67 586.28,58.17 586.15,60.00 C586.02,61.83 585.95,64.00 585.95,66.00 C585.95,68.00 586.02,70.33 586.15,72.00 C586.28,73.67 586.55,74.67 586.75,76.00 C586.95,77.33 587.15,78.33 587.35,80.00 C587.55,81.67 587.77,84.00 587.95,86.00 C588.13,88.00 588.28,90.17 588.45,92.00 C588.62,93.83 588.87,96.17 588.95,97.00 L588.95,97.00 L588.95,36.30 Z" fill="#c4bedc" stroke="#2b2b2b" stroke-width="0.55" stroke-linejoin="round"/>
<path d="M588.95,36.30 C589.00,37.25 589.18,40.05 589.25,42.00 C589.32,43.95 589.30,46.33 589.35,48.00 C589.40,49.67 589.42,51.17 589.55,52.00 C589.68,52.83 590.02,52.00 590.15,53.00 C590.28,54.00 590.25,56.17 590.35,58.00 C590.45,59.83 590.55,62.00 590.75,64.00 C590.95,66.00 591.35,68.00 591.55,70.00 C591.75,72.00 591.90,74.00 591.95,76.00 C592.00,78.00 591.98,80.33 591.85,82.00 C591.72,83.67 591.40,84.67 591.15,86.00 C590.90,87.33 590.58,88.83 590.35,90.00 C590.12,91.17 589.98,91.83 589.75,93.00 C589.52,94.17 589.08,96.33 588.95,97.00 L588.95,97.00 L588.95,36.30 Z" fill="#8676c4" stroke="#2b2b2b" stroke-width="0.55" stroke-linejoin="round"/>
<path d="M588.65,36.30 L588.65,37.86 L588.65,39.41 L588.65,40.97 L588.63,42.53 L588.58,44.08 L587.34,45.64 L587.27,47.19 L587.21,48.75 L587.13,50.31 L587.00,51.86 L586.95,53.42 L586.95,54.98 L586.95,56.53 L586.95,58.09 L586.95,59.65 L586.95,61.20 L586.95,62.76 L586.95,64.32 L586.95,65.87 L586.95,67.43 L586.95,68.98 L586.95,70.54 L586.95,72.10 L586.95,73.65 L586.95,75.21 L586.95,76.77 L587.10,78.32 L587.33,79.88 L587.49,81.44 L587.65,82.99 L587.80,84.55 L587.96,86.11 L588.09,87.66 L588.22,89.22 L588.35,90.77 L588.48,92.33 L588.64,93.89 L588.65,95.44 L588.65,97.00 L589.25,97.00 L589.26,95.44 L589.57,93.89 L589.88,92.33 L590.20,90.77 L590.51,89.22 L590.82,87.66 L590.95,86.11 L590.95,84.55 L590.95,82.99 L590.95,81.44 L590.95,79.88 L590.95,78.32 L590.95,76.77 L590.95,75.21 L590.95,73.65 L590.95,72.10 L590.95,70.54 L590.95,68.98 L590.95,67.43 L590.95,65.87 L590.79,64.32 L590.67,62.76 L590.56,61.20 L590.46,59.65 L590.36,58.09 L590.29,56.53 L590.23,54.98 L590.17,53.42 L589.54,51.86 L589.47,50.31 L589.39,48.75 L589.34,47.19 L589.31,45.64 L589.28,44.08 L589.26,42.53 L589.25,40.97 L589.25,39.41 L589.25,37.86 L589.25,36.30 Z" fill="#3a3a3a" fill-opacity="0.35"/>
<rect x="586.85" y="59.80" width="2.10" height="13.20" fill="#a898d8" stroke="#1a1a1a" stroke-width="0.5"/>
<line x1="586.85" y1="66.50" x2="588.95" y2="66.50" stroke="#111" stroke-width="0.8"/>
<rect x="588.95" y="70.80" width="2.10" height="13.20" fill="#6a56c0" stroke="#1a1a1a" stroke-width="0.5"/>
<line x1="588.95" y1="77.50" x2="591.05" y2="77.50" stroke="#111" stroke-width="0.8"/>
<text x="588.55" y="38.70" text-anchor="middle" class="st">***</text>
<path d="M625.64,108.50 C625.14,108.63 623.97,109.08 622.64,109.30 C621.31,109.52 619.64,109.67 617.64,109.80 C615.64,109.93 612.81,109.98 610.64,110.10 C608.47,110.22 604.64,110.32 604.64,110.50 C604.64,110.68 608.47,111.02 610.64,111.20 C612.81,111.38 615.64,111.47 617.64,111.60 C619.64,111.73 621.31,111.87 622.64,112.00 C623.97,112.13 625.14,112.33 625.64,112.40 L625.64,112.40 L625.64,108.50 Z" fill="#f5c4d3" stroke="#2b2b2b" stroke-width="0.55" stroke-linejoin="round"/>
<path d="M625.64,107.50 C625.97,107.62 626.64,108.03 627.64,108.20 C628.64,108.37 629.97,108.43 631.64,108.50 C633.31,108.57 636.39,108.48 637.64,108.60 C638.89,108.72 638.72,108.97 639.14,109.20 C639.56,109.43 640.39,109.67 640.14,110.00 C639.89,110.33 638.47,110.83 637.64,111.20 C636.81,111.57 636.47,112.00 635.14,112.20 C633.81,112.40 631.22,112.37 629.64,112.40 C628.06,112.43 626.31,112.40 625.64,112.40 L625.64,112.40 L625.64,107.50 Z" fill="#e9839f" stroke="#2b2b2b" stroke-width="0.55" stroke-linejoin="round"/>
<path d="M625.34,107.50 L625.34,107.63 L625.34,107.75 L625.34,107.88 L625.34,108.00 L625.34,108.13 L625.34,108.25 L625.34,108.38 L625.34,108.51 L625.15,108.63 L624.68,108.76 L624.21,108.88 L623.74,109.01 L623.64,109.13 L623.64,109.26 L623.64,109.38 L623.64,109.51 L623.64,109.64 L623.64,109.76 L623.64,109.89 L623.64,110.01 L623.64,110.14 L623.64,110.26 L623.64,110.39 L623.64,110.52 L623.64,110.64 L623.64,110.77 L623.64,110.89 L623.64,111.02 L623.64,111.14 L623.64,111.27 L623.64,111.39 L623.64,111.52 L623.64,111.65 L623.64,111.77 L623.64,111.90 L623.64,112.02 L623.76,112.15 L624.70,112.27 L625.34,112.40 L625.94,112.40 L627.64,112.27 L627.64,112.15 L627.64,112.02 L627.64,111.90 L627.64,111.77 L627.64,111.65 L627.64,111.52 L627.64,111.39 L627.64,111.27 L627.64,111.14 L627.64,111.02 L627.64,110.89 L627.64,110.77 L627.64,110.64 L627.64,110.52 L627.64,110.39 L627.64,110.26 L627.64,110.14 L627.64,110.01 L627.64,109.89 L627.64,109.76 L627.64,109.64 L627.64,109.51 L627.64,109.38 L627.64,109.26 L627.64,109.13 L627.64,109.01 L627.64,108.88 L627.64,108.76 L627.64,108.63 L627.64,108.51 L627.64,108.38 L627.64,108.25 L627.43,108.13 L627.08,108.00 L626.72,107.88 L626.36,107.75 L626.00,107.63 L625.94,107.50 Z" fill="#3a3a3a" fill-opacity="0.4"/>
<rect x="623.54" y="110.07" width="2.10" height="1.17" fill="#f8d4de" stroke="#1a1a1a" stroke-width="0.5"/>
<line x1="623.54" y1="110.63" x2="625.64" y2="110.63" stroke="#111" stroke-width="0.8"/>
<rect x="625.64" y="109.12" width="2.10" height="2.29" fill="#d8608a" stroke="#1a1a1a" stroke-width="0.5"/>
<line x1="625.64" y1="110.23" x2="627.74" y2="110.23" stroke="#111" stroke-width="0.8"/>
<path d="M662.33,103.00 C662.25,103.50 662.33,105.25 661.83,106.00 C661.33,106.75 660.58,107.00 659.33,107.50 C658.08,108.00 657.05,108.53 654.33,109.00 C651.61,109.47 643.03,109.87 643.03,110.30 C643.03,110.73 651.11,111.25 654.33,111.60 C657.55,111.95 661.00,112.27 662.33,112.40 L662.33,112.40 L662.33,103.00 Z" fill="#f5edca" stroke="#2b2b2b" stroke-width="0.55" stroke-linejoin="round"/>
<path d="M662.33,103.00 C662.46,103.50 662.63,105.25 663.13,106.00 C663.63,106.75 664.13,107.08 665.33,107.50 C666.53,107.92 668.46,108.12 670.33,108.50 C672.20,108.88 676.53,109.25 676.53,109.80 C676.53,110.35 672.36,111.35 670.33,111.80 C668.30,112.25 665.66,112.38 664.33,112.50 C663.00,112.62 662.66,112.50 662.33,112.50 L662.33,112.50 L662.33,103.00 Z" fill="#e5d28a" stroke="#2b2b2b" stroke-width="0.55" stroke-linejoin="round"/>
<path d="M662.03,103.00 L662.03,103.24 L662.03,103.49 L662.03,103.73 L662.03,103.97 L662.03,104.22 L662.03,104.46 L662.03,104.71 L662.01,104.95 L661.96,105.19 L661.92,105.44 L661.88,105.68 L661.84,105.92 L661.55,106.17 L661.15,106.41 L660.74,106.65 L660.33,106.90 L660.33,107.14 L660.33,107.38 L660.33,107.63 L660.33,107.87 L660.33,108.12 L660.33,108.36 L660.33,108.60 L660.33,108.85 L660.33,109.09 L660.33,109.33 L660.33,109.58 L660.33,109.82 L660.33,110.06 L660.33,110.31 L660.33,110.55 L660.33,110.79 L660.33,111.04 L660.33,111.28 L660.33,111.53 L660.33,111.77 L660.33,112.01 L660.89,112.26 L662.03,112.50 L662.63,112.50 L664.33,112.26 L664.33,112.01 L664.33,111.77 L664.33,111.53 L664.33,111.28 L664.33,111.04 L664.33,110.79 L664.33,110.55 L664.33,110.31 L664.33,110.06 L664.33,109.82 L664.33,109.58 L664.33,109.33 L664.33,109.09 L664.33,108.85 L664.33,108.60 L664.33,108.36 L664.33,108.12 L664.33,107.87 L664.33,107.63 L664.33,107.38 L664.33,107.14 L664.33,106.90 L664.09,106.65 L663.73,106.41 L663.37,106.17 L663.11,105.92 L663.04,105.68 L662.98,105.44 L662.91,105.19 L662.85,104.95 L662.78,104.71 L662.72,104.46 L662.65,104.22 L662.63,103.97 L662.63,103.73 L662.63,103.49 L662.63,103.24 L662.63,103.00 Z" fill="#3a3a3a" fill-opacity="0.4"/>
<rect x="660.23" y="108.86" width="2.10" height="2.12" fill="#f8f2d8" stroke="#1a1a1a" stroke-width="0.5"/>
<line x1="660.23" y1="110.07" x2="662.33" y2="110.07" stroke="#111" stroke-width="0.8"/>
<rect x="662.33" y="108.58" width="2.10" height="2.53" fill="#cdb556" stroke="#1a1a1a" stroke-width="0.5"/>
<line x1="662.33" y1="109.86" x2="664.43" y2="109.86" stroke="#111" stroke-width="0.8"/>
<path d="M405.50,155.90 C405.42,157.42 405.38,161.95 405.00,165.00 C404.62,168.05 403.57,171.70 403.20,174.20 C402.83,176.70 402.78,178.20 402.80,180.00 C402.82,181.80 403.02,182.97 403.30,185.00 C403.58,187.03 404.13,189.45 404.50,192.20 C404.87,194.95 405.33,199.95 405.50,201.50 L405.50,201.50 L405.50,155.90 Z" fill="#c6ced8" stroke="#2b2b2b" stroke-width="0.55" stroke-linejoin="round"/>
<path d="M405.50,155.90 C405.58,157.42 405.85,161.95 406.00,165.00 C406.15,168.05 406.23,171.70 406.40,174.20 C406.57,176.70 406.65,178.20 407.00,180.00 C407.35,181.80 408.32,182.97 408.50,185.00 C408.68,187.03 408.52,189.45 408.10,192.20 C407.68,194.95 406.35,199.95 406.00,201.50 L405.50,201.50 L405.50,155.90 Z" fill="#78869a" stroke="#2b2b2b" stroke-width="0.55" stroke-linejoin="round"/>
<path d="M405.20,155.90 L405.20,157.07 L405.20,158.24 L405.20,159.41 L405.20,160.58 L405.18,161.75 L405.11,162.92 L405.05,164.08 L404.95,165.25 L404.72,166.42 L404.49,167.59 L404.26,168.76 L404.04,169.93 L403.81,171.10 L403.58,172.27 L403.50,173.44 L403.50,174.61 L403.50,175.78 L403.50,176.95 L403.50,178.12 L403.50,179.28 L403.50,180.45 L403.50,181.62 L403.50,182.79 L403.50,183.96 L403.50,185.13 L403.52,186.30 L403.71,187.47 L403.91,188.64 L404.10,189.81 L404.30,190.98 L404.49,192.15 L404.62,193.32 L404.75,194.48 L404.87,195.65 L405.00,196.82 L405.12,197.99 L405.20,199.16 L405.20,200.33 L405.20,201.50 L406.00,201.50 L406.26,200.33 L406.53,199.16 L406.79,197.99 L407.06,196.82 L407.32,195.65 L407.50,194.48 L407.50,193.32 L407.50,192.15 L407.50,190.98 L407.50,189.81 L407.50,188.64 L407.50,187.47 L407.50,186.30 L407.50,185.13 L407.50,183.96 L407.50,182.79 L407.49,181.62 L407.14,180.45 L406.93,179.28 L406.81,178.12 L406.68,176.95 L406.56,175.78 L406.44,174.61 L406.37,173.44 L406.32,172.27 L406.27,171.10 L406.21,169.93 L406.16,168.76 L406.11,167.59 L406.06,166.42 L406.01,165.25 L405.95,164.08 L405.89,162.92 L405.82,161.75 L405.80,160.58 L405.80,159.41 L405.80,158.24 L405.80,157.07 L405.80,155.90 Z" fill="#3a3a3a" fill-opacity="0.55"/>
<rect x="403.40" y="172.50" width="2.10" height="14.71" fill="#5a6270" stroke="#1a1a1a" stroke-width="0.5"/>
<line x1="403.40" y1="179.79" x2="405.50" y2="179.79" stroke="#111" stroke-width="0.8"/>
<rect x="405.50" y="178.16" width="2.10" height="15.00" fill="#3b5875" stroke="#1a1a1a" stroke-width="0.5"/>
<line x1="405.50" y1="186.30" x2="407.60" y2="186.30" stroke="#111" stroke-width="0.8"/>
<text x="405.10" y="157.30" text-anchor="middle" class="st">***</text>
<path d="M442.19,203.90 C442.11,204.42 441.94,206.18 441.69,207.00 C441.44,207.82 441.44,208.30 440.69,208.80 C439.94,209.30 438.44,209.60 437.19,210.00 C435.94,210.40 434.51,210.82 433.19,211.20 C431.87,211.58 429.12,212.00 429.29,212.30 C429.46,212.60 432.54,212.75 434.19,213.00 C435.84,213.25 437.86,213.60 439.19,213.80 C440.52,214.00 441.69,214.13 442.19,214.20 L442.19,214.20 L442.19,203.90 Z" fill="#e3e9f4" stroke="#2b2b2b" stroke-width="0.55" stroke-linejoin="round"/>
<path d="M442.19,203.90 C442.27,204.42 442.44,206.02 442.69,207.00 C442.94,207.98 443.11,209.17 443.69,209.80 C444.27,210.43 445.11,210.43 446.19,210.80 C447.27,211.17 448.72,211.58 450.19,212.00 C451.66,212.42 454.99,212.88 454.99,213.30 C454.99,213.72 451.82,214.08 450.19,214.50 C448.56,214.92 446.52,215.47 445.19,215.80 C443.86,216.13 442.69,216.38 442.19,216.50 L442.19,216.50 L442.19,203.90 Z" fill="#c9d3e7" stroke="#2b2b2b" stroke-width="0.55" stroke-linejoin="round"/>
<path d="M441.89,203.90 L441.89,204.22 L441.89,204.55 L441.89,204.87 L441.89,205.19 L441.89,205.52 L441.88,205.84 L441.83,206.16 L441.77,206.48 L441.72,206.81 L441.62,207.13 L441.44,207.45 L441.26,207.78 L441.08,208.10 L440.90,208.42 L440.72,208.75 L440.19,209.07 L440.19,209.39 L440.19,209.72 L440.19,210.04 L440.19,210.36 L440.19,210.68 L440.19,211.01 L440.19,211.33 L440.19,211.65 L440.19,211.98 L440.19,212.30 L440.19,212.62 L440.19,212.95 L440.19,213.27 L440.19,213.59 L440.19,213.92 L441.89,214.24 L441.89,214.56 L441.89,214.88 L441.89,215.21 L441.89,215.53 L441.89,215.85 L441.89,216.18 L441.89,216.50 L442.49,216.50 L443.57,216.18 L444.19,215.85 L444.19,215.53 L444.19,215.21 L444.19,214.88 L444.19,214.56 L444.19,214.24 L444.19,213.92 L444.19,213.59 L444.19,213.27 L444.19,212.95 L444.19,212.62 L444.19,212.30 L444.19,211.98 L444.19,211.65 L444.19,211.33 L444.19,211.01 L444.19,210.68 L444.19,210.36 L444.19,210.04 L443.66,209.72 L443.54,209.39 L443.43,209.07 L443.31,208.75 L443.20,208.42 L443.08,208.10 L442.97,207.78 L442.85,207.45 L442.74,207.13 L442.66,206.81 L442.61,206.48 L442.55,206.16 L442.50,205.84 L442.49,205.52 L442.49,205.19 L442.49,204.87 L442.49,204.55 L442.49,204.22 L442.49,203.90 Z" fill="#3a3a3a" fill-opacity="0.4"/>
<rect x="440.09" y="210.28" width="2.10" height="2.42" fill="#4a5468" stroke="#1a1a1a" stroke-width="0.5"/>
<line x1="440.09" y1="211.67" x2="442.19" y2="211.67" stroke="#111" stroke-width="0.8"/>
<rect x="442.19" y="211.49" width="2.10" height="2.84" fill="#3a4458" stroke="#1a1a1a" stroke-width="0.5"/>
<line x1="442.19" y1="213.03" x2="444.29" y2="213.03" stroke="#111" stroke-width="0.8"/>
<path d="M478.88,186.20 C478.83,188.50 478.75,196.70 478.58,200.00 C478.41,203.30 478.66,204.58 477.88,206.00 C477.10,207.42 475.31,207.73 473.88,208.50 C472.45,209.27 469.28,209.77 469.28,210.60 C469.28,211.43 472.28,212.68 473.88,213.50 C475.48,214.32 478.05,215.17 478.88,215.50 L478.88,215.50 L478.88,186.20 Z" fill="#d8e2f7" stroke="#2b2b2b" stroke-width="0.55" stroke-linejoin="round"/>
<path d="M478.88,186.20 C479.10,187.17 479.66,189.70 480.18,192.00 C480.70,194.30 481.95,197.83 481.98,200.00 C482.01,202.17 480.85,203.70 480.38,205.00 C479.91,206.30 479.38,206.30 479.18,207.80 C478.98,209.30 479.23,212.80 479.18,214.00 C479.13,215.20 478.93,214.83 478.88,215.00 L478.88,215.00 L478.88,186.20 Z" fill="#89a7e8" stroke="#2b2b2b" stroke-width="0.55" stroke-linejoin="round"/>
<path d="M478.58,186.20 L478.58,186.95 L478.58,187.70 L478.58,188.45 L478.58,189.21 L478.58,189.96 L478.58,190.71 L478.58,191.46 L478.58,192.21 L478.58,192.96 L478.58,193.71 L478.58,194.46 L478.58,195.22 L478.58,195.97 L478.58,196.72 L478.58,197.47 L478.58,198.22 L478.58,198.97 L478.58,199.72 L478.52,200.47 L478.44,201.23 L478.35,201.98 L478.26,202.73 L478.17,203.48 L478.09,204.23 L478.00,204.98 L477.91,205.73 L477.10,206.48 L476.88,207.24 L476.88,207.99 L476.88,208.74 L476.88,209.49 L476.88,210.24 L476.88,210.99 L476.88,211.74 L476.88,212.49 L476.88,213.25 L476.88,214.00 L477.00,214.75 L478.58,215.50 L479.18,215.50 L479.18,214.75 L479.18,214.00 L479.18,213.25 L479.18,212.49 L479.18,211.74 L479.18,210.99 L479.18,210.24 L479.18,209.49 L479.18,208.74 L479.18,207.99 L479.42,207.24 L479.74,206.48 L480.07,205.73 L480.39,204.98 L480.63,204.23 L480.87,203.48 L480.88,202.73 L480.88,201.98 L480.88,201.23 L480.88,200.47 L480.88,199.72 L480.88,198.97 L480.88,198.22 L480.88,197.47 L480.88,196.72 L480.88,195.97 L480.88,195.22 L480.73,194.46 L480.57,193.71 L480.40,192.96 L480.23,192.21 L480.06,191.46 L479.89,190.71 L479.72,189.96 L479.55,189.21 L479.39,188.45 L479.22,187.70 L479.18,186.95 L479.18,186.20 Z" fill="#3a3a3a" fill-opacity="0.4"/>
<rect x="476.78" y="208.05" width="2.10" height="4.41" fill="#b4c8f4" stroke="#1a1a1a" stroke-width="0.5"/>
<line x1="476.78" y1="210.43" x2="478.88" y2="210.43" stroke="#111" stroke-width="0.8"/>
<rect x="478.88" y="194.43" width="2.10" height="8.84" fill="#4d7be0" stroke="#1a1a1a" stroke-width="0.5"/>
<line x1="478.88" y1="199.12" x2="480.98" y2="199.12" stroke="#111" stroke-width="0.8"/>
<text x="478.48" y="188.00" text-anchor="middle" class="st">***</text>
<path d="M515.57,191.20 C515.52,193.50 515.52,202.27 515.27,205.00 C515.02,207.73 514.85,206.85 514.07,207.60 C513.29,208.35 511.69,208.78 510.57,209.50 C509.45,210.22 507.37,211.07 507.37,211.90 C507.37,212.73 509.20,213.82 510.57,214.50 C511.94,215.18 514.74,215.75 515.57,216.00 L515.57,216.00 L515.57,191.20 Z" fill="#d2ded9" stroke="#2b2b2b" stroke-width="0.55" stroke-linejoin="round"/>
<path d="M515.57,191.20 C515.70,192.33 515.94,195.55 516.37,198.00 C516.80,200.45 517.92,203.57 518.17,205.90 C518.42,208.23 518.30,210.28 517.87,212.00 C517.44,213.72 515.95,215.50 515.57,216.20 L515.57,216.20 L515.57,191.20 Z" fill="#a9c1b8" stroke="#2b2b2b" stroke-width="0.55" stroke-linejoin="round"/>
<path d="M515.27,191.20 L515.27,191.84 L515.27,192.48 L515.27,193.12 L515.27,193.76 L515.27,194.41 L515.27,195.05 L515.27,195.69 L515.27,196.33 L515.27,196.97 L515.27,197.61 L515.27,198.25 L515.27,198.89 L515.27,199.53 L515.27,200.17 L515.27,200.82 L515.27,201.46 L515.27,202.10 L515.27,202.74 L515.27,203.38 L515.27,204.02 L515.27,204.66 L515.13,205.30 L514.83,205.94 L514.54,206.58 L514.24,207.23 L513.58,207.87 L513.57,208.51 L513.57,209.15 L513.57,209.79 L513.57,210.43 L513.57,211.07 L513.57,211.71 L513.57,212.35 L513.57,212.99 L513.57,213.64 L513.57,214.28 L513.57,214.92 L514.10,215.56 L515.27,216.20 L515.87,216.20 L515.92,215.56 L516.27,214.92 L516.62,214.28 L516.97,213.64 L517.33,212.99 L517.57,212.35 L517.57,211.71 L517.57,211.07 L517.57,210.43 L517.57,209.79 L517.57,209.15 L517.57,208.51 L517.57,207.87 L517.57,207.23 L517.57,206.58 L517.57,205.94 L517.57,205.30 L517.57,204.66 L517.57,204.02 L517.57,203.38 L517.45,202.74 L517.30,202.10 L517.16,201.46 L517.01,200.82 L516.87,200.17 L516.72,199.53 L516.57,198.89 L516.43,198.25 L516.32,197.61 L516.25,196.97 L516.17,196.33 L516.10,195.69 L516.02,195.05 L515.95,194.41 L515.87,193.76 L515.87,193.12 L515.87,192.48 L515.87,191.84 L515.87,191.20 Z" fill="#3a3a3a" fill-opacity="0.4"/>
<rect x="513.47" y="209.27" width="2.10" height="4.27" fill="#c8dcd4" stroke="#1a1a1a" stroke-width="0.5"/>
<line x1="513.47" y1="211.52" x2="515.57" y2="211.52" stroke="#111" stroke-width="0.8"/>
<rect x="515.57" y="201.68" width="2.10" height="9.48" fill="#2f6e60" stroke="#1a1a1a" stroke-width="0.5"/>
<line x1="515.57" y1="206.61" x2="517.67" y2="206.61" stroke="#111" stroke-width="0.8"/>
<text x="515.17" y="192.10" text-anchor="middle" class="st">***</text>
<path d="M552.26,182.40 C552.18,183.33 551.93,186.15 551.76,188.00 C551.59,189.85 551.54,191.67 551.26,193.50 C550.98,195.33 550.38,197.23 550.06,199.00 C549.74,200.77 549.36,202.43 549.36,204.10 C549.36,205.77 549.73,207.52 550.06,209.00 C550.39,210.48 550.99,212.03 551.36,213.00 C551.73,213.97 552.11,214.50 552.26,214.80 L552.26,214.80 L552.26,182.40 Z" fill="#c0c0da" stroke="#2b2b2b" stroke-width="0.55" stroke-linejoin="round"/>
<path d="M552.26,182.40 C552.34,183.33 552.59,186.15 552.76,188.00 C552.93,189.85 553.01,191.67 553.26,193.50 C553.51,195.33 553.98,197.23 554.26,199.00 C554.54,200.77 554.96,202.43 554.96,204.10 C554.96,205.77 554.56,207.52 554.26,209.00 C553.96,210.48 553.49,212.03 553.16,213.00 C552.83,213.97 552.41,214.50 552.26,214.80 L552.26,214.80 L552.26,182.40 Z" fill="#9c9cd6" stroke="#2b2b2b" stroke-width="0.55" stroke-linejoin="round"/>
<path d="M551.96,182.40 L551.96,183.23 L551.96,184.06 L551.96,184.89 L551.96,185.72 L551.89,186.55 L551.81,187.38 L551.74,188.22 L551.66,189.05 L551.59,189.88 L551.51,190.71 L551.44,191.54 L551.36,192.37 L551.29,193.20 L551.14,194.03 L550.96,194.86 L550.78,195.69 L550.60,196.52 L550.42,197.35 L550.26,198.18 L550.26,199.02 L550.26,199.85 L550.26,200.68 L550.26,201.51 L550.26,202.34 L550.26,203.17 L550.26,204.00 L550.26,204.83 L550.26,205.66 L550.26,206.49 L550.26,207.32 L550.26,208.15 L550.26,208.98 L550.33,209.82 L550.60,210.65 L550.87,211.48 L551.13,212.31 L551.43,213.14 L551.84,213.97 L551.96,214.80 L552.56,214.80 L552.68,213.97 L553.09,213.14 L553.35,212.31 L553.58,211.48 L553.81,210.65 L554.04,209.82 L554.26,208.98 L554.26,208.15 L554.26,207.32 L554.26,206.49 L554.26,205.66 L554.26,204.83 L554.26,204.00 L554.26,203.17 L554.26,202.34 L554.26,201.51 L554.26,200.68 L554.26,199.85 L554.26,199.02 L554.11,198.18 L553.96,197.35 L553.81,196.52 L553.66,195.69 L553.51,194.86 L553.36,194.03 L553.23,193.20 L553.16,192.37 L553.08,191.54 L553.01,190.71 L552.93,189.88 L552.86,189.05 L552.78,188.22 L552.71,187.38 L552.63,186.55 L552.56,185.72 L552.56,184.89 L552.56,184.06 L552.56,183.23 L552.56,182.40 Z" fill="#3a3a3a" fill-opacity="0.4"/>
<rect x="550.16" y="196.51" width="2.10" height="11.57" fill="#c4c4e6" stroke="#1a1a1a" stroke-width="0.5"/>
<line x1="550.16" y1="202.70" x2="552.26" y2="202.70" stroke="#111" stroke-width="0.8"/>
<rect x="552.26" y="196.22" width="2.10" height="11.88" fill="#8484dc" stroke="#1a1a1a" stroke-width="0.5"/>
<line x1="552.26" y1="202.62" x2="554.36" y2="202.62" stroke="#111" stroke-width="0.8"/>
<text x="551.86" y="183.90" text-anchor="middle" class="st">*</text>
<path d="M588.95,153.40 C588.72,153.43 587.80,152.50 587.55,153.60 C587.30,154.70 587.48,157.93 587.45,160.00 C587.42,162.07 587.57,164.58 587.35,166.00 C587.13,167.42 586.38,167.00 586.15,168.50 C585.92,170.00 585.95,172.75 585.95,175.00 C585.95,177.25 585.90,180.50 586.15,182.00 C586.40,183.50 587.18,182.67 587.45,184.00 C587.72,185.33 587.63,188.00 587.75,190.00 C587.87,192.00 587.95,194.58 588.15,196.00 C588.35,197.42 588.82,198.08 588.95,198.50 L588.95,198.50 L588.95,153.40 Z" fill="#c4bedc" stroke="#2b2b2b" stroke-width="0.55" stroke-linejoin="round"/>
<path d="M588.95,153.40 C589.25,153.43 590.43,152.50 590.75,153.60 C591.07,154.70 590.82,157.93 590.85,160.00 C590.88,162.07 590.77,164.58 590.95,166.00 C591.13,167.42 591.77,167.00 591.95,168.50 C592.13,170.00 592.05,172.75 592.05,175.00 C592.05,177.25 592.22,180.50 591.95,182.00 C591.68,183.50 590.78,182.67 590.45,184.00 C590.12,185.33 590.12,188.00 589.95,190.00 C589.78,192.00 589.62,194.58 589.45,196.00 C589.28,197.42 589.03,198.08 588.95,198.50 L588.95,198.50 L588.95,153.40 Z" fill="#8676c4" stroke="#2b2b2b" stroke-width="0.55" stroke-linejoin="round"/>
<path d="M588.65,153.40 L587.54,154.56 L587.52,155.71 L587.50,156.87 L587.48,158.03 L587.46,159.18 L587.44,160.34 L587.43,161.49 L587.41,162.65 L587.39,163.81 L587.37,164.96 L587.29,166.12 L586.95,167.28 L586.95,168.43 L586.95,169.59 L586.95,170.75 L586.95,171.90 L586.95,173.06 L586.95,174.22 L586.95,175.37 L586.95,176.53 L586.95,177.68 L586.95,178.84 L586.95,180.00 L586.95,181.15 L586.95,182.31 L587.10,183.47 L587.48,184.62 L587.54,185.78 L587.60,186.94 L587.65,188.09 L587.71,189.25 L587.78,190.41 L587.85,191.56 L587.93,192.72 L588.01,193.87 L588.09,195.03 L588.21,196.19 L588.58,197.34 L588.65,198.50 L589.25,198.50 L589.25,197.34 L589.41,196.19 L589.53,195.03 L589.63,193.87 L589.72,192.72 L589.82,191.56 L589.92,190.41 L590.01,189.25 L590.11,188.09 L590.21,186.94 L590.30,185.78 L590.40,184.62 L590.85,183.47 L590.95,182.31 L590.95,181.15 L590.95,180.00 L590.95,178.84 L590.95,177.68 L590.95,176.53 L590.95,175.37 L590.95,174.22 L590.95,173.06 L590.95,171.90 L590.95,170.75 L590.95,169.59 L590.95,168.43 L590.95,167.28 L590.95,166.12 L590.93,164.96 L590.91,163.81 L590.89,162.65 L590.87,161.49 L590.86,160.34 L590.84,159.18 L590.82,158.03 L590.80,156.87 L590.78,155.71 L590.76,154.56 L589.25,153.40 Z" fill="#3a3a3a" fill-opacity="0.25"/>
<rect x="586.85" y="168.50" width="2.10" height="13.80" fill="#b0a4dc" stroke="#1a1a1a" stroke-width="0.5"/>
<line x1="586.85" y1="175.80" x2="588.95" y2="175.80" stroke="#111" stroke-width="0.8"/>
<rect x="588.95" y="168.50" width="2.10" height="13.80" fill="#6a56c0" stroke="#1a1a1a" stroke-width="0.5"/>
<line x1="588.95" y1="175.80" x2="591.05" y2="175.80" stroke="#111" stroke-width="0.8"/>
<path d="M625.64,212.40 C624.81,212.55 623.01,212.90 620.64,213.30 C618.27,213.70 611.44,214.38 611.44,214.80 C611.44,215.22 618.27,215.53 620.64,215.80 C623.01,216.07 624.81,216.30 625.64,216.40 L625.64,216.40 L625.64,212.40 Z" fill="#f5c4d3" stroke="#2b2b2b" stroke-width="0.55" stroke-linejoin="round"/>
<path d="M625.64,212.40 C626.14,212.47 627.31,212.62 628.64,212.80 C629.97,212.98 631.76,213.07 633.64,213.50 C635.52,213.93 640.44,214.95 639.94,215.40 C639.44,215.85 633.02,216.03 630.64,216.20 C628.26,216.37 626.47,216.37 625.64,216.40 L625.64,216.40 L625.64,212.40 Z" fill="#e9839f" stroke="#2b2b2b" stroke-width="0.55" stroke-linejoin="round"/>
<path d="M625.34,212.40 L625.07,212.50 L624.50,212.61 L623.93,212.71 L623.64,212.81 L623.64,212.91 L623.64,213.02 L623.64,213.12 L623.64,213.22 L623.64,213.32 L623.64,213.43 L623.64,213.53 L623.64,213.63 L623.64,213.73 L623.64,213.84 L623.64,213.94 L623.64,214.04 L623.64,214.14 L623.64,214.25 L623.64,214.35 L623.64,214.45 L623.64,214.55 L623.64,214.66 L623.64,214.76 L623.64,214.86 L623.64,214.96 L623.64,215.07 L623.64,215.17 L623.64,215.27 L623.64,215.37 L623.64,215.48 L623.64,215.58 L623.64,215.68 L623.64,215.78 L623.64,215.89 L623.64,215.99 L623.64,216.09 L623.93,216.19 L624.79,216.30 L625.34,216.40 L625.94,216.40 L627.64,216.30 L627.64,216.19 L627.64,216.09 L627.64,215.99 L627.64,215.89 L627.64,215.78 L627.64,215.68 L627.64,215.58 L627.64,215.48 L627.64,215.37 L627.64,215.27 L627.64,215.17 L627.64,215.07 L627.64,214.96 L627.64,214.86 L627.64,214.76 L627.64,214.66 L627.64,214.55 L627.64,214.45 L627.64,214.35 L627.64,214.25 L627.64,214.14 L627.64,214.04 L627.64,213.94 L627.64,213.84 L627.64,213.73 L627.64,213.63 L627.64,213.53 L627.64,213.43 L627.64,213.32 L627.64,213.22 L627.64,213.12 L627.64,213.02 L627.64,212.91 L627.64,212.81 L627.64,212.71 L627.18,212.61 L626.41,212.50 L625.94,212.40 Z" fill="#3a3a3a" fill-opacity="0.4"/>
<rect x="623.54" y="213.81" width="2.10" height="1.45" fill="#f8d4de" stroke="#1a1a1a" stroke-width="0.5"/>
<line x1="623.54" y1="214.60" x2="625.64" y2="214.60" stroke="#111" stroke-width="0.8"/>
<rect x="625.64" y="213.76" width="2.10" height="1.79" fill="#d8608a" stroke="#1a1a1a" stroke-width="0.5"/>
<line x1="625.64" y1="214.74" x2="627.74" y2="214.74" stroke="#111" stroke-width="0.8"/>
<path d="M662.33,213.00 C661.50,213.22 661.16,213.90 657.33,214.30 C653.50,214.70 639.33,215.07 639.33,215.40 C639.33,215.73 653.50,216.13 657.33,216.30 C661.16,216.47 661.50,216.38 662.33,216.40 L662.33,216.40 L662.33,213.00 Z" fill="#f5edca" stroke="#2b2b2b" stroke-width="0.55" stroke-linejoin="round"/>
<path d="M662.33,211.80 C662.66,211.80 663.50,211.72 664.33,211.80 C665.16,211.88 666.33,211.97 667.33,212.30 C668.33,212.63 669.51,213.28 670.33,213.80 C671.15,214.32 672.73,214.97 672.23,215.40 C671.73,215.83 668.98,216.23 667.33,216.40 C665.68,216.57 663.16,216.40 662.33,216.40 L662.33,216.40 L662.33,211.80 Z" fill="#e5d28a" stroke="#2b2b2b" stroke-width="0.55" stroke-linejoin="round"/>
<path d="M662.03,211.80 L662.03,211.92 L662.03,212.04 L662.03,212.15 L662.03,212.27 L662.03,212.39 L662.03,212.51 L662.03,212.63 L662.03,212.74 L662.03,212.86 L662.03,212.98 L661.96,213.10 L661.50,213.22 L661.05,213.33 L660.59,213.45 L660.33,213.57 L660.33,213.69 L660.33,213.81 L660.33,213.92 L660.33,214.04 L660.33,214.16 L660.33,214.28 L660.33,214.39 L660.33,214.51 L660.33,214.63 L660.33,214.75 L660.33,214.87 L660.33,214.98 L660.33,215.10 L660.33,215.22 L660.33,215.34 L660.33,215.46 L660.33,215.57 L660.33,215.69 L660.33,215.81 L660.33,215.93 L660.33,216.05 L660.33,216.16 L660.33,216.28 L662.03,216.40 L662.63,216.40 L664.33,216.28 L664.33,216.16 L664.33,216.05 L664.33,215.93 L664.33,215.81 L664.33,215.69 L664.33,215.57 L664.33,215.46 L664.33,215.34 L664.33,215.22 L664.33,215.10 L664.33,214.98 L664.33,214.87 L664.33,214.75 L664.33,214.63 L664.33,214.51 L664.33,214.39 L664.33,214.28 L664.33,214.16 L664.33,214.04 L664.33,213.92 L664.33,213.81 L664.33,213.69 L664.33,213.57 L664.33,213.45 L664.33,213.33 L664.33,213.22 L664.33,213.10 L664.33,212.98 L664.33,212.86 L664.33,212.74 L664.33,212.63 L664.33,212.51 L664.33,212.39 L664.33,212.27 L664.33,212.15 L664.33,212.04 L664.33,211.92 L664.33,211.80 Z" fill="#3a3a3a" fill-opacity="0.4"/>
<rect x="660.23" y="214.69" width="2.10" height="1.04" fill="#f8f2d8" stroke="#1a1a1a" stroke-width="0.5"/>
<line x1="660.23" y1="215.27" x2="662.33" y2="215.27" stroke="#111" stroke-width="0.8"/>
<rect x="662.33" y="213.12" width="2.10" height="2.41" fill="#cdb556" stroke="#1a1a1a" stroke-width="0.5"/>
<line x1="662.33" y1="214.42" x2="664.43" y2="214.42" stroke="#111" stroke-width="0.8"/>
</svg>
</body></html>
